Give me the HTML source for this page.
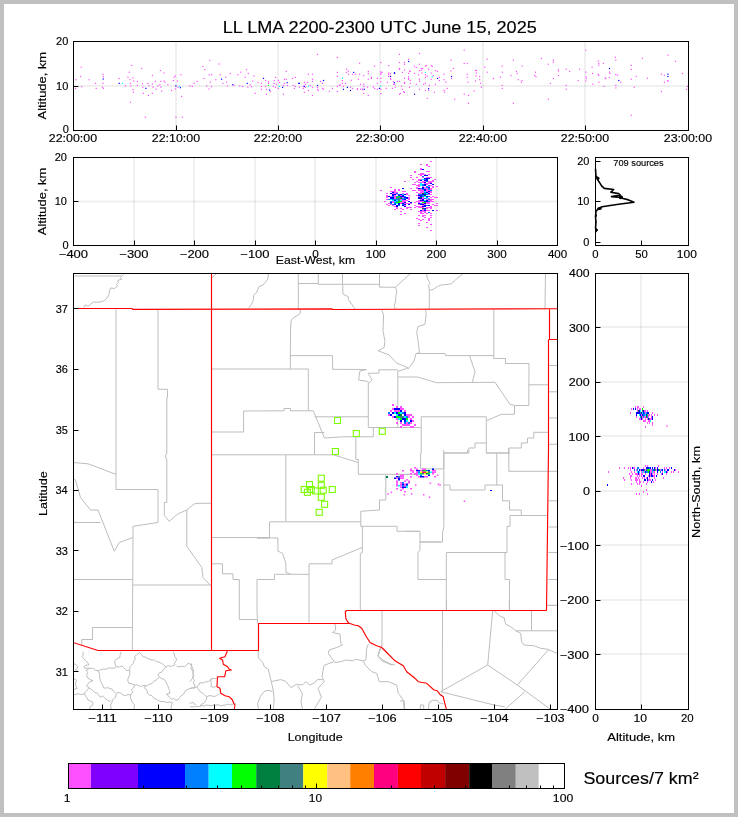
<!DOCTYPE html><html><head><meta charset="utf-8"><style>html,body{margin:0;padding:0;background:#fff;} svg{display:block;will-change:transform} text{font-family:"Liberation Sans", sans-serif;stroke:#000;stroke-width:0.15px;}</style></head><body>
<svg width="738" height="817" viewBox="0 0 738 817">
<rect x="0" y="0" width="738" height="817" fill="#c0c0c0"/>
<rect x="4" y="4" width="730" height="809" fill="#fff"/>
<text x="222.71" y="32.60" font-size="16.8" textLength="314.05" lengthAdjust="spacingAndGlyphs" fill="#000" >LL LMA 2200-2300 UTC June 15, 2025</text>
<line x1="176.0" y1="41.5" x2="176.0" y2="130.5" stroke="#000" stroke-opacity="0.06" stroke-width="2"/>
<line x1="278.0" y1="41.5" x2="278.0" y2="130.5" stroke="#000" stroke-opacity="0.06" stroke-width="2"/>
<line x1="380.0" y1="41.5" x2="380.0" y2="130.5" stroke="#000" stroke-opacity="0.06" stroke-width="2"/>
<line x1="483.0" y1="41.5" x2="483.0" y2="130.5" stroke="#000" stroke-opacity="0.06" stroke-width="2"/>
<line x1="585.0" y1="41.5" x2="585.0" y2="130.5" stroke="#000" stroke-opacity="0.06" stroke-width="2"/>
<line x1="73.5" y1="86" x2="688.5" y2="86" stroke="#000" stroke-opacity="0.06" stroke-width="2"/>
<rect x="75.4" y="79.1" width="1.2" height="1.2" fill="#ff50ff"/><rect x="74.9" y="87.8" width="1.2" height="1.2" fill="#ff50ff"/><rect x="80.6" y="66.6" width="1.2" height="1.2" fill="#ff50ff"/><rect x="79.9" y="75.9" width="1.2" height="1.2" fill="#ff50ff"/><rect x="81.1" y="86.1" width="1.2" height="1.2" fill="#ff50ff"/><rect x="88.6" y="79.1" width="1.2" height="1.2" fill="#ff50ff"/><rect x="94.9" y="82.8" width="1.2" height="1.2" fill="#ff50ff"/><rect x="95.6" y="87.8" width="1.2" height="1.2" fill="#ff50ff"/><rect x="102.4" y="73.6" width="1.2" height="1.2" fill="#ff50ff"/><rect x="102.9" y="76.1" width="1.2" height="1.2" fill="#ff50ff"/><rect x="102.6" y="78.4" width="1.2" height="1.2" fill="#0000ff"/><rect x="102.4" y="82.8" width="1.2" height="1.2" fill="#ff50ff"/><rect x="101.9" y="86.6" width="1.2" height="1.2" fill="#ff50ff"/><rect x="102.9" y="87.8" width="1.2" height="1.2" fill="#ff50ff"/><rect x="118.6" y="77.9" width="1.2" height="1.2" fill="#ff50ff"/><rect x="118.6" y="82.8" width="1.2" height="1.2" fill="#0000ff"/><rect x="121.8" y="82.8" width="1.2" height="1.2" fill="#00ffff"/><rect x="124.8" y="85.3" width="1.2" height="1.2" fill="#ff50ff"/><rect x="127.3" y="76.6" width="1.2" height="1.2" fill="#ff50ff"/><rect x="128.6" y="71.6" width="1.2" height="1.2" fill="#ff50ff"/><rect x="129.3" y="79.1" width="1.2" height="1.2" fill="#ff50ff"/><rect x="129.8" y="82.8" width="1.2" height="1.2" fill="#ff50ff"/><rect x="130.3" y="85.3" width="1.2" height="1.2" fill="#ff50ff"/><rect x="131.1" y="64.9" width="1.2" height="1.2" fill="#ff50ff"/><rect x="132.3" y="77.4" width="1.2" height="1.2" fill="#ff50ff"/><rect x="133.1" y="80.4" width="1.2" height="1.2" fill="#ff50ff"/><rect x="132.3" y="89.1" width="1.2" height="1.2" fill="#ff50ff"/><rect x="132.8" y="91.6" width="1.2" height="1.2" fill="#ff50ff"/><rect x="129.8" y="101.6" width="1.2" height="1.2" fill="#ff50ff"/><rect x="136.8" y="80.8" width="1.2" height="1.2" fill="#ff50ff"/><rect x="136.8" y="84.8" width="1.2" height="1.2" fill="#ff50ff"/><rect x="141.1" y="67.9" width="1.2" height="1.2" fill="#ff50ff"/><rect x="141.8" y="83.3" width="1.2" height="1.2" fill="#ff50ff"/><rect x="142.3" y="86.6" width="1.2" height="1.2" fill="#ff50ff"/><rect x="142.8" y="92.8" width="1.2" height="1.2" fill="#ff50ff"/><rect x="144.8" y="116.6" width="1.2" height="1.2" fill="#ff50ff"/><rect x="145.3" y="87.8" width="1.2" height="1.2" fill="#0000ff"/><rect x="147.3" y="82.8" width="1.2" height="1.2" fill="#ff50ff"/><rect x="148.6" y="85.3" width="1.2" height="1.2" fill="#ff50ff"/><rect x="147.8" y="94.8" width="1.2" height="1.2" fill="#ff50ff"/><rect x="151.8" y="74.9" width="1.2" height="1.2" fill="#ff50ff"/><rect x="151.8" y="83.3" width="1.2" height="1.2" fill="#ff50ff"/><rect x="151.8" y="92.8" width="1.2" height="1.2" fill="#ff50ff"/><rect x="152.3" y="86.6" width="1.2" height="1.2" fill="#ff50ff"/><rect x="154.8" y="80.8" width="1.2" height="1.2" fill="#ff50ff"/><rect x="155.5" y="88.6" width="1.2" height="1.2" fill="#ff50ff"/><rect x="157.3" y="85.3" width="1.2" height="1.2" fill="#ff50ff"/><rect x="159.3" y="84.1" width="1.2" height="1.2" fill="#ff50ff"/><rect x="159.8" y="69.9" width="1.2" height="1.2" fill="#ff50ff"/><rect x="160.3" y="80.8" width="1.2" height="1.2" fill="#ff50ff"/><rect x="160.3" y="86.6" width="1.2" height="1.2" fill="#ff50ff"/><rect x="161.0" y="90.3" width="1.2" height="1.2" fill="#ff50ff"/><rect x="163.5" y="72.4" width="1.2" height="1.2" fill="#ff50ff"/><rect x="163.5" y="80.4" width="1.2" height="1.2" fill="#ff50ff"/><rect x="164.3" y="81.6" width="1.2" height="1.2" fill="#ff50ff"/><rect x="167.3" y="84.1" width="1.2" height="1.2" fill="#ff50ff"/><rect x="171.0" y="89.8" width="1.2" height="1.2" fill="#ff50ff"/><rect x="172.8" y="79.9" width="1.2" height="1.2" fill="#ff50ff"/><rect x="173.5" y="76.6" width="1.2" height="1.2" fill="#ff50ff"/><rect x="174.8" y="75.4" width="1.2" height="1.2" fill="#ff50ff"/><rect x="175.3" y="85.3" width="1.2" height="1.2" fill="#0000ff"/><rect x="174.8" y="88.3" width="1.2" height="1.2" fill="#ff50ff"/><rect x="175.3" y="116.6" width="1.2" height="1.2" fill="#ff50ff"/><rect x="176.8" y="80.4" width="1.2" height="1.2" fill="#ff50ff"/><rect x="177.3" y="86.6" width="1.2" height="1.2" fill="#ff50ff"/><rect x="178.5" y="85.8" width="1.2" height="1.2" fill="#00ffff"/><rect x="179.8" y="87.1" width="1.2" height="1.2" fill="#0000ff"/><rect x="180.3" y="74.1" width="1.2" height="1.2" fill="#ff50ff"/><rect x="181.0" y="95.8" width="1.2" height="1.2" fill="#ff50ff"/><rect x="181.8" y="116.6" width="1.2" height="1.2" fill="#ff50ff"/><rect x="189.3" y="85.3" width="1.2" height="1.2" fill="#ff50ff"/><rect x="191.8" y="85.8" width="1.2" height="1.2" fill="#ff50ff"/><rect x="193.5" y="82.8" width="1.2" height="1.2" fill="#ff50ff"/><rect x="196.7" y="80.8" width="1.2" height="1.2" fill="#ff50ff"/><rect x="202.2" y="65.9" width="1.2" height="1.2" fill="#ff50ff"/><rect x="203.5" y="77.9" width="1.2" height="1.2" fill="#ff50ff"/><rect x="204.2" y="69.1" width="1.2" height="1.2" fill="#ff50ff"/><rect x="206.0" y="85.3" width="1.2" height="1.2" fill="#ff50ff"/><rect x="208.5" y="74.1" width="1.2" height="1.2" fill="#ff50ff"/><rect x="208.5" y="88.3" width="1.2" height="1.2" fill="#ff50ff"/><rect x="209.2" y="59.9" width="1.2" height="1.2" fill="#ff50ff"/><rect x="209.7" y="81.6" width="1.2" height="1.2" fill="#ff50ff"/><rect x="211.0" y="74.1" width="1.2" height="1.2" fill="#ff50ff"/><rect x="211.0" y="86.1" width="1.2" height="1.2" fill="#ff50ff"/><rect x="215.2" y="79.1" width="1.2" height="1.2" fill="#ff50ff"/><rect x="218.5" y="63.4" width="1.2" height="1.2" fill="#ff50ff"/><rect x="219.7" y="74.1" width="1.2" height="1.2" fill="#ff50ff"/><rect x="221.0" y="78.6" width="1.2" height="1.2" fill="#0000ff"/><rect x="222.2" y="82.8" width="1.2" height="1.2" fill="#ff50ff"/><rect x="225.2" y="76.6" width="1.2" height="1.2" fill="#ff50ff"/><rect x="226.0" y="81.6" width="1.2" height="1.2" fill="#ff50ff"/><rect x="226.7" y="85.3" width="1.2" height="1.2" fill="#ff50ff"/><rect x="229.7" y="72.9" width="1.2" height="1.2" fill="#ff50ff"/><rect x="232.2" y="84.1" width="1.2" height="1.2" fill="#0000ff"/><rect x="233.4" y="84.8" width="1.2" height="1.2" fill="#ff50ff"/><rect x="237.2" y="74.1" width="1.2" height="1.2" fill="#ff50ff"/><rect x="239.2" y="85.3" width="1.2" height="1.2" fill="#ff50ff"/><rect x="240.2" y="71.6" width="1.2" height="1.2" fill="#ff50ff"/><rect x="242.2" y="85.8" width="1.2" height="1.2" fill="#ff50ff"/><rect x="244.7" y="76.6" width="1.2" height="1.2" fill="#ff50ff"/><rect x="245.9" y="69.1" width="1.2" height="1.2" fill="#ff50ff"/><rect x="246.7" y="82.8" width="1.2" height="1.2" fill="#0000ff"/><rect x="247.2" y="86.6" width="1.2" height="1.2" fill="#ff50ff"/><rect x="247.7" y="72.9" width="1.2" height="1.2" fill="#ff50ff"/><rect x="249.7" y="84.1" width="1.2" height="1.2" fill="#ff50ff"/><rect x="250.9" y="86.1" width="1.2" height="1.2" fill="#ff50ff"/><rect x="252.2" y="80.4" width="1.2" height="1.2" fill="#ff50ff"/><rect x="253.4" y="75.4" width="1.2" height="1.2" fill="#ff50ff"/><rect x="254.7" y="92.8" width="1.2" height="1.2" fill="#ff50ff"/><rect x="257.4" y="81.8" width="1.2" height="1.2" fill="#ff50ff"/><rect x="260.8" y="82.8" width="1.2" height="1.2" fill="#ff50ff"/><rect x="260.8" y="85.8" width="1.2" height="1.2" fill="#ff50ff"/><rect x="260.8" y="88.7" width="1.2" height="1.2" fill="#ff50ff"/><rect x="262.9" y="77.8" width="1.2" height="1.2" fill="#0000ff"/><rect x="264.9" y="79.9" width="1.2" height="1.2" fill="#ff50ff"/><rect x="264.9" y="85.8" width="1.2" height="1.2" fill="#ff50ff"/><rect x="265.8" y="88.7" width="1.2" height="1.2" fill="#ff50ff"/><rect x="265.8" y="93.7" width="1.2" height="1.2" fill="#ff50ff"/><rect x="267.9" y="81.2" width="1.2" height="1.2" fill="#ff50ff"/><rect x="267.9" y="82.8" width="1.2" height="1.2" fill="#ff50ff"/><rect x="267.9" y="84.9" width="1.2" height="1.2" fill="#00ff00"/><rect x="268.9" y="89.5" width="1.2" height="1.2" fill="#0000ff"/><rect x="269.9" y="90.8" width="1.2" height="1.2" fill="#ff50ff"/><rect x="272.6" y="85.8" width="1.2" height="1.2" fill="#ff50ff"/><rect x="273.6" y="79.9" width="1.2" height="1.2" fill="#ff50ff"/><rect x="273.6" y="82.8" width="1.2" height="1.2" fill="#ff50ff"/><rect x="274.9" y="76.8" width="1.2" height="1.2" fill="#ff50ff"/><rect x="274.9" y="86.8" width="1.2" height="1.2" fill="#ff50ff"/><rect x="275.7" y="83.7" width="1.2" height="1.2" fill="#ff50ff"/><rect x="277.8" y="79.9" width="1.2" height="1.2" fill="#ff50ff"/><rect x="277.8" y="87.8" width="1.2" height="1.2" fill="#ff50ff"/><rect x="278.8" y="81.8" width="1.2" height="1.2" fill="#ff50ff"/><rect x="278.8" y="85.8" width="1.2" height="1.2" fill="#00ffff"/><rect x="282.0" y="86.8" width="1.2" height="1.2" fill="#0000ff"/><rect x="282.8" y="93.7" width="1.2" height="1.2" fill="#ff50ff"/><rect x="282.8" y="84.9" width="1.2" height="1.2" fill="#ff50ff"/><rect x="283.8" y="78.7" width="1.2" height="1.2" fill="#ff50ff"/><rect x="283.8" y="82.8" width="1.2" height="1.2" fill="#ff50ff"/><rect x="285.7" y="70.8" width="1.2" height="1.2" fill="#ff50ff"/><rect x="285.7" y="78.7" width="1.2" height="1.2" fill="#ff50ff"/><rect x="286.6" y="82.1" width="1.2" height="1.2" fill="#0000ff"/><rect x="286.9" y="84.9" width="1.2" height="1.2" fill="#ff50ff"/><rect x="291.9" y="77.8" width="1.2" height="1.2" fill="#ff50ff"/><rect x="292.6" y="84.9" width="1.2" height="1.2" fill="#ff50ff"/><rect x="293.8" y="87.8" width="1.2" height="1.2" fill="#ff50ff"/><rect x="294.8" y="76.8" width="1.2" height="1.2" fill="#ff50ff"/><rect x="294.8" y="85.8" width="1.2" height="1.2" fill="#ff50ff"/><rect x="298.2" y="82.8" width="1.2" height="1.2" fill="#0000ff"/><rect x="298.8" y="82.8" width="1.2" height="1.2" fill="#0000ff"/><rect x="298.8" y="86.6" width="1.2" height="1.2" fill="#ff50ff"/><rect x="302.8" y="85.8" width="1.2" height="1.2" fill="#ff50ff"/><rect x="302.8" y="87.8" width="1.2" height="1.2" fill="#ff50ff"/><rect x="303.8" y="81.8" width="1.2" height="1.2" fill="#ff50ff"/><rect x="303.8" y="85.8" width="1.2" height="1.2" fill="#0000ff"/><rect x="303.8" y="91.8" width="1.2" height="1.2" fill="#ff50ff"/><rect x="304.8" y="83.7" width="1.2" height="1.2" fill="#ff50ff"/><rect x="304.8" y="86.8" width="1.2" height="1.2" fill="#ff50ff"/><rect x="306.9" y="81.8" width="1.2" height="1.2" fill="#ff50ff"/><rect x="307.8" y="73.7" width="1.2" height="1.2" fill="#ff50ff"/><rect x="307.8" y="85.6" width="1.2" height="1.2" fill="#00ffff"/><rect x="307.8" y="89.9" width="1.2" height="1.2" fill="#ff50ff"/><rect x="309.8" y="84.9" width="1.2" height="1.2" fill="#ff50ff"/><rect x="311.9" y="73.7" width="1.2" height="1.2" fill="#ff50ff"/><rect x="311.9" y="78.7" width="1.2" height="1.2" fill="#ff50ff"/><rect x="311.9" y="80.8" width="1.2" height="1.2" fill="#ff50ff"/><rect x="311.9" y="86.8" width="1.2" height="1.2" fill="#ff50ff"/><rect x="311.9" y="94.9" width="1.2" height="1.2" fill="#ff50ff"/><rect x="316.9" y="53.8" width="1.2" height="1.2" fill="#ff50ff"/><rect x="316.9" y="84.9" width="1.2" height="1.2" fill="#0000ff"/><rect x="316.9" y="86.8" width="1.2" height="1.2" fill="#ff50ff"/><rect x="316.9" y="88.7" width="1.2" height="1.2" fill="#ff50ff"/><rect x="317.7" y="89.9" width="1.2" height="1.2" fill="#ff50ff"/><rect x="320.0" y="80.8" width="1.2" height="1.2" fill="#ff50ff"/><rect x="321.9" y="82.8" width="1.2" height="1.2" fill="#ff50ff"/><rect x="321.9" y="87.8" width="1.2" height="1.2" fill="#ff50ff"/><rect x="322.9" y="79.9" width="1.2" height="1.2" fill="#0000ff"/><rect x="322.9" y="88.7" width="1.2" height="1.2" fill="#ff50ff"/><rect x="328.7" y="90.8" width="1.2" height="1.2" fill="#ff50ff"/><rect x="331.8" y="87.8" width="1.2" height="1.2" fill="#ff50ff"/><rect x="336.8" y="56.9" width="1.2" height="1.2" fill="#ff50ff"/><rect x="336.8" y="71.8" width="1.2" height="1.2" fill="#ff50ff"/><rect x="336.8" y="75.8" width="1.2" height="1.2" fill="#ff50ff"/><rect x="336.8" y="85.8" width="1.2" height="1.2" fill="#ff50ff"/><rect x="336.8" y="90.8" width="1.2" height="1.2" fill="#ff50ff"/><rect x="338.7" y="84.6" width="1.2" height="1.2" fill="#ff50ff"/><rect x="339.7" y="84.3" width="1.2" height="1.2" fill="#ff50ff"/><rect x="341.8" y="77.8" width="1.2" height="1.2" fill="#00ffff"/><rect x="341.8" y="79.9" width="1.2" height="1.2" fill="#ff50ff"/><rect x="341.8" y="82.8" width="1.2" height="1.2" fill="#ff50ff"/><rect x="342.8" y="85.8" width="1.2" height="1.2" fill="#ff50ff"/><rect x="342.8" y="88.7" width="1.2" height="1.2" fill="#0000ff"/><rect x="344.9" y="82.8" width="1.2" height="1.2" fill="#ff50ff"/><rect x="345.9" y="68.7" width="1.2" height="1.2" fill="#ff50ff"/><rect x="345.9" y="71.8" width="1.2" height="1.2" fill="#ff50ff"/><rect x="346.8" y="86.8" width="1.2" height="1.2" fill="#0000ff"/><rect x="347.8" y="70.6" width="1.2" height="1.2" fill="#ff50ff"/><rect x="348.0" y="73.7" width="1.2" height="1.2" fill="#ff50ff"/><rect x="359.0" y="62.7" width="1.2" height="1.2" fill="#ff50ff"/><rect x="374.0" y="65.6" width="1.2" height="1.2" fill="#ff50ff"/><rect x="353.1" y="71.8" width="1.2" height="1.2" fill="#0000ff"/><rect x="351.9" y="73.7" width="1.2" height="1.2" fill="#ff50ff"/><rect x="354.6" y="73.7" width="1.2" height="1.2" fill="#ff50ff"/><rect x="359.0" y="73.7" width="1.2" height="1.2" fill="#ff50ff"/><rect x="363.1" y="75.0" width="1.2" height="1.2" fill="#ff50ff"/><rect x="367.7" y="70.8" width="1.2" height="1.2" fill="#ff50ff"/><rect x="367.7" y="72.8" width="1.2" height="1.2" fill="#ff50ff"/><rect x="350.6" y="79.7" width="1.2" height="1.2" fill="#ff50ff"/><rect x="357.8" y="78.7" width="1.2" height="1.2" fill="#ff50ff"/><rect x="367.7" y="78.7" width="1.2" height="1.2" fill="#ff50ff"/><rect x="370.8" y="76.8" width="1.2" height="1.2" fill="#ff50ff"/><rect x="370.8" y="77.8" width="1.2" height="1.2" fill="#ff50ff"/><rect x="376.8" y="77.8" width="1.2" height="1.2" fill="#ff50ff"/><rect x="376.8" y="82.8" width="1.2" height="1.2" fill="#ff50ff"/><rect x="380.2" y="61.9" width="1.2" height="1.2" fill="#ff50ff"/><rect x="380.2" y="71.2" width="1.2" height="1.2" fill="#ff50ff"/><rect x="380.2" y="72.5" width="1.2" height="1.2" fill="#ff50ff"/><rect x="380.2" y="73.7" width="1.2" height="1.2" fill="#ff50ff"/><rect x="381.4" y="71.8" width="1.2" height="1.2" fill="#ff50ff"/><rect x="380.2" y="77.8" width="1.2" height="1.2" fill="#ff50ff"/><rect x="380.2" y="81.2" width="1.2" height="1.2" fill="#ff50ff"/><rect x="380.2" y="85.6" width="1.2" height="1.2" fill="#00ffff"/><rect x="380.2" y="88.7" width="1.2" height="1.2" fill="#ff50ff"/><rect x="380.2" y="93.0" width="1.2" height="1.2" fill="#ff50ff"/><rect x="378.9" y="87.8" width="1.2" height="1.2" fill="#0000ff"/><rect x="359.9" y="83.7" width="1.2" height="1.2" fill="#ff50ff"/><rect x="363.1" y="83.7" width="1.2" height="1.2" fill="#ff50ff"/><rect x="363.4" y="85.8" width="1.2" height="1.2" fill="#ff50ff"/><rect x="366.9" y="86.6" width="1.2" height="1.2" fill="#ff50ff"/><rect x="372.7" y="86.6" width="1.2" height="1.2" fill="#ff50ff"/><rect x="374.0" y="88.1" width="1.2" height="1.2" fill="#ff50ff"/><rect x="376.8" y="88.7" width="1.2" height="1.2" fill="#ff50ff"/><rect x="349.9" y="86.6" width="1.2" height="1.2" fill="#ff50ff"/><rect x="351.9" y="87.8" width="1.2" height="1.2" fill="#ff50ff"/><rect x="349.9" y="89.9" width="1.2" height="1.2" fill="#0000ff"/><rect x="356.9" y="88.1" width="1.2" height="1.2" fill="#ff50ff"/><rect x="356.9" y="89.1" width="1.2" height="1.2" fill="#ff50ff"/><rect x="359.9" y="88.7" width="1.2" height="1.2" fill="#ff50ff"/><rect x="361.9" y="88.3" width="1.2" height="1.2" fill="#ff50ff"/><rect x="361.9" y="89.1" width="1.2" height="1.2" fill="#ff50ff"/><rect x="363.7" y="88.7" width="1.2" height="1.2" fill="#0000ff"/><rect x="363.1" y="92.8" width="1.2" height="1.2" fill="#ff50ff"/><rect x="367.7" y="94.9" width="1.2" height="1.2" fill="#ff50ff"/><rect x="385.6" y="87.8" width="1.2" height="1.2" fill="#ff50ff"/><rect x="386.8" y="81.8" width="1.2" height="1.2" fill="#ff50ff"/><rect x="388.1" y="65.0" width="1.2" height="1.2" fill="#ff50ff"/><rect x="388.1" y="72.5" width="1.2" height="1.2" fill="#ff50ff"/><rect x="388.1" y="73.7" width="1.2" height="1.2" fill="#ff50ff"/><rect x="388.1" y="75.8" width="1.2" height="1.2" fill="#ff50ff"/><rect x="389.9" y="73.1" width="1.2" height="1.2" fill="#ff50ff"/><rect x="389.9" y="75.8" width="1.2" height="1.2" fill="#0000ff"/><rect x="389.9" y="77.8" width="1.2" height="1.2" fill="#ff50ff"/><rect x="390.2" y="78.7" width="1.2" height="1.2" fill="#ff50ff"/><rect x="393.9" y="72.1" width="1.2" height="1.2" fill="#0000ff"/><rect x="393.9" y="72.8" width="1.2" height="1.2" fill="#0000ff"/><rect x="392.7" y="81.2" width="1.2" height="1.2" fill="#ff50ff"/><rect x="393.9" y="82.1" width="1.2" height="1.2" fill="#0000ff"/><rect x="393.0" y="83.7" width="1.2" height="1.2" fill="#ff50ff"/><rect x="393.9" y="83.7" width="1.2" height="1.2" fill="#ff50ff"/><rect x="391.8" y="87.8" width="1.2" height="1.2" fill="#ff50ff"/><rect x="394.8" y="86.6" width="1.2" height="1.2" fill="#ff50ff"/><rect x="396.8" y="80.8" width="1.2" height="1.2" fill="#ff50ff"/><rect x="398.9" y="53.8" width="1.2" height="1.2" fill="#ff50ff"/><rect x="398.9" y="61.9" width="1.2" height="1.2" fill="#ff50ff"/><rect x="398.9" y="67.9" width="1.2" height="1.2" fill="#ff50ff"/><rect x="398.9" y="68.7" width="1.2" height="1.2" fill="#ff50ff"/><rect x="398.9" y="80.8" width="1.2" height="1.2" fill="#ff50ff"/><rect x="400.8" y="85.6" width="1.2" height="1.2" fill="#ff50ff"/><rect x="401.8" y="71.8" width="1.2" height="1.2" fill="#ff50ff"/><rect x="401.8" y="88.7" width="1.2" height="1.2" fill="#ff50ff"/><rect x="403.0" y="91.2" width="1.2" height="1.2" fill="#ff50ff"/><rect x="403.9" y="91.8" width="1.2" height="1.2" fill="#ff50ff"/><rect x="403.9" y="61.9" width="1.2" height="1.2" fill="#ff50ff"/><rect x="403.9" y="63.7" width="1.2" height="1.2" fill="#ff50ff"/><rect x="403.9" y="69.4" width="1.2" height="1.2" fill="#ff50ff"/><rect x="403.9" y="77.8" width="1.2" height="1.2" fill="#ff50ff"/><rect x="403.9" y="81.8" width="1.2" height="1.2" fill="#ff50ff"/><rect x="403.9" y="82.8" width="1.2" height="1.2" fill="#ff50ff"/><rect x="398.9" y="93.7" width="1.2" height="1.2" fill="#ff50ff"/><rect x="399.8" y="92.8" width="1.2" height="1.2" fill="#ff50ff"/><rect x="408.0" y="58.8" width="1.2" height="1.2" fill="#ff50ff"/><rect x="408.0" y="60.9" width="1.2" height="1.2" fill="#0000ff"/><rect x="408.0" y="72.8" width="1.2" height="1.2" fill="#ff50ff"/><rect x="408.0" y="76.2" width="1.2" height="1.2" fill="#ff50ff"/><rect x="408.0" y="77.8" width="1.2" height="1.2" fill="#ff50ff"/><rect x="408.0" y="78.7" width="1.2" height="1.2" fill="#ff50ff"/><rect x="408.9" y="70.6" width="1.2" height="1.2" fill="#ff50ff"/><rect x="409.7" y="70.6" width="1.2" height="1.2" fill="#ff50ff"/><rect x="409.7" y="79.9" width="1.2" height="1.2" fill="#ff50ff"/><rect x="409.7" y="82.8" width="1.2" height="1.2" fill="#ff50ff"/><rect x="408.9" y="86.8" width="1.2" height="1.2" fill="#ff50ff"/><rect x="413.9" y="65.6" width="1.2" height="1.2" fill="#ff50ff"/><rect x="413.9" y="72.8" width="1.2" height="1.2" fill="#ff50ff"/><rect x="413.9" y="93.7" width="1.2" height="1.2" fill="#0000ff"/><rect x="415.7" y="66.9" width="1.2" height="1.2" fill="#ff50ff"/><rect x="415.7" y="83.7" width="1.2" height="1.2" fill="#ff50ff"/><rect x="418.0" y="74.3" width="1.2" height="1.2" fill="#ff50ff"/><rect x="418.8" y="52.9" width="1.2" height="1.2" fill="#ff50ff"/><rect x="418.8" y="63.7" width="1.2" height="1.2" fill="#ff50ff"/><rect x="418.8" y="70.0" width="1.2" height="1.2" fill="#ff50ff"/><rect x="418.8" y="78.7" width="1.2" height="1.2" fill="#ff50ff"/><rect x="418.8" y="80.6" width="1.2" height="1.2" fill="#ff50ff"/><rect x="418.8" y="88.7" width="1.2" height="1.2" fill="#ff50ff"/><rect x="420.7" y="67.9" width="1.2" height="1.2" fill="#ff50ff"/><rect x="420.7" y="69.7" width="1.2" height="1.2" fill="#ff50ff"/><rect x="421.3" y="72.5" width="1.2" height="1.2" fill="#ff50ff"/><rect x="422.0" y="67.9" width="1.2" height="1.2" fill="#ff50ff"/><rect x="423.0" y="83.7" width="1.2" height="1.2" fill="#ff50ff"/><rect x="424.8" y="65.6" width="1.2" height="1.2" fill="#ff50ff"/><rect x="424.8" y="71.8" width="1.2" height="1.2" fill="#00ffff"/><rect x="424.8" y="74.3" width="1.2" height="1.2" fill="#ff50ff"/><rect x="424.8" y="76.8" width="1.2" height="1.2" fill="#ff50ff"/><rect x="424.8" y="82.8" width="1.2" height="1.2" fill="#ff50ff"/><rect x="424.8" y="89.9" width="1.2" height="1.2" fill="#ff50ff"/><rect x="425.7" y="65.0" width="1.2" height="1.2" fill="#ff50ff"/><rect x="426.7" y="75.6" width="1.2" height="1.2" fill="#ff50ff"/><rect x="426.7" y="97.8" width="1.2" height="1.2" fill="#ff50ff"/><rect x="428.0" y="68.7" width="1.2" height="1.2" fill="#ff50ff"/><rect x="428.0" y="88.1" width="1.2" height="1.2" fill="#0000ff"/><rect x="428.0" y="89.9" width="1.2" height="1.2" fill="#ff50ff"/><rect x="428.8" y="84.9" width="1.2" height="1.2" fill="#ff50ff"/><rect x="430.7" y="65.0" width="1.2" height="1.2" fill="#ff50ff"/><rect x="431.7" y="65.6" width="1.2" height="1.2" fill="#ff50ff"/><rect x="430.7" y="72.5" width="1.2" height="1.2" fill="#ff50ff"/><rect x="430.7" y="78.7" width="1.2" height="1.2" fill="#ff50ff"/><rect x="431.7" y="76.2" width="1.2" height="1.2" fill="#00ffff"/><rect x="432.8" y="75.0" width="1.2" height="1.2" fill="#ff50ff"/><rect x="433.8" y="91.8" width="1.2" height="1.2" fill="#ff50ff"/><rect x="434.8" y="70.0" width="1.2" height="1.2" fill="#ff50ff"/><rect x="434.8" y="83.7" width="1.2" height="1.2" fill="#ff50ff"/><rect x="436.9" y="70.8" width="1.2" height="1.2" fill="#ff50ff"/><rect x="436.9" y="77.8" width="1.2" height="1.2" fill="#0000ff"/><rect x="438.8" y="76.8" width="1.2" height="1.2" fill="#ff50ff"/><rect x="438.8" y="79.9" width="1.2" height="1.2" fill="#ff50ff"/><rect x="443.4" y="73.6" width="1.2" height="1.2" fill="#ff50ff"/><rect x="443.4" y="79.1" width="1.2" height="1.2" fill="#ff50ff"/><rect x="445.4" y="81.6" width="1.2" height="1.2" fill="#ff50ff"/><rect x="446.6" y="87.8" width="1.2" height="1.2" fill="#ff50ff"/><rect x="443.4" y="89.8" width="1.2" height="1.2" fill="#ff50ff"/><rect x="444.1" y="91.6" width="1.2" height="1.2" fill="#ff50ff"/><rect x="450.4" y="59.6" width="1.2" height="1.2" fill="#ff50ff"/><rect x="450.4" y="70.4" width="1.2" height="1.2" fill="#ff50ff"/><rect x="450.9" y="75.9" width="1.2" height="1.2" fill="#0000ff"/><rect x="450.9" y="77.9" width="1.2" height="1.2" fill="#ff50ff"/><rect x="452.9" y="67.9" width="1.2" height="1.2" fill="#ff50ff"/><rect x="454.1" y="98.6" width="1.2" height="1.2" fill="#ff50ff"/><rect x="463.6" y="49.6" width="1.2" height="1.2" fill="#ff50ff"/><rect x="463.6" y="62.9" width="1.2" height="1.2" fill="#ff50ff"/><rect x="463.6" y="93.6" width="1.2" height="1.2" fill="#ff50ff"/><rect x="466.6" y="62.9" width="1.2" height="1.2" fill="#ff50ff"/><rect x="466.6" y="73.6" width="1.2" height="1.2" fill="#ff50ff"/><rect x="466.6" y="76.6" width="1.2" height="1.2" fill="#ff50ff"/><rect x="467.4" y="81.6" width="1.2" height="1.2" fill="#ff50ff"/><rect x="467.9" y="94.8" width="1.2" height="1.2" fill="#ff50ff"/><rect x="467.9" y="102.8" width="1.2" height="1.2" fill="#ff50ff"/><rect x="473.6" y="90.3" width="1.2" height="1.2" fill="#ff50ff"/><rect x="474.9" y="69.9" width="1.2" height="1.2" fill="#ff50ff"/><rect x="475.4" y="75.4" width="1.2" height="1.2" fill="#ff50ff"/><rect x="475.9" y="69.9" width="1.2" height="1.2" fill="#ff50ff"/><rect x="475.9" y="72.4" width="1.2" height="1.2" fill="#ff50ff"/><rect x="474.9" y="80.4" width="1.2" height="1.2" fill="#ff50ff"/><rect x="479.1" y="75.9" width="1.2" height="1.2" fill="#ff50ff"/><rect x="479.1" y="79.1" width="1.2" height="1.2" fill="#ff50ff"/><rect x="479.9" y="82.8" width="1.2" height="1.2" fill="#ff50ff"/><rect x="480.8" y="86.6" width="1.2" height="1.2" fill="#ff50ff"/><rect x="484.1" y="66.6" width="1.2" height="1.2" fill="#ff50ff"/><rect x="486.6" y="58.6" width="1.2" height="1.2" fill="#ff50ff"/><rect x="486.6" y="71.6" width="1.2" height="1.2" fill="#ff50ff"/><rect x="492.8" y="77.9" width="1.2" height="1.2" fill="#ff50ff"/><rect x="499.8" y="76.6" width="1.2" height="1.2" fill="#ff50ff"/><rect x="501.6" y="65.4" width="1.2" height="1.2" fill="#ff50ff"/><rect x="501.6" y="71.6" width="1.2" height="1.2" fill="#ff50ff"/><rect x="501.6" y="84.8" width="1.2" height="1.2" fill="#ff50ff"/><rect x="501.6" y="87.8" width="1.2" height="1.2" fill="#ff50ff"/><rect x="510.3" y="74.9" width="1.2" height="1.2" fill="#ff50ff"/><rect x="512.8" y="59.6" width="1.2" height="1.2" fill="#ff50ff"/><rect x="512.8" y="102.8" width="1.2" height="1.2" fill="#ff50ff"/><rect x="515.8" y="70.9" width="1.2" height="1.2" fill="#ff50ff"/><rect x="516.6" y="72.9" width="1.2" height="1.2" fill="#ff50ff"/><rect x="517.8" y="79.1" width="1.2" height="1.2" fill="#ff50ff"/><rect x="520.8" y="81.6" width="1.2" height="1.2" fill="#ff50ff"/><rect x="521.5" y="65.4" width="1.2" height="1.2" fill="#ff50ff"/><rect x="521.5" y="79.9" width="1.2" height="1.2" fill="#ff50ff"/><rect x="534.0" y="74.9" width="1.2" height="1.2" fill="#ff50ff"/><rect x="534.8" y="71.6" width="1.2" height="1.2" fill="#ff50ff"/><rect x="535.3" y="76.1" width="1.2" height="1.2" fill="#ff50ff"/><rect x="540.8" y="57.9" width="1.2" height="1.2" fill="#ff50ff"/><rect x="547.8" y="63.6" width="1.2" height="1.2" fill="#ff50ff"/><rect x="547.8" y="98.6" width="1.2" height="1.2" fill="#ff50ff"/><rect x="549.8" y="82.8" width="1.2" height="1.2" fill="#ff50ff"/><rect x="552.8" y="59.6" width="1.2" height="1.2" fill="#ff50ff"/><rect x="552.8" y="61.6" width="1.2" height="1.2" fill="#ff50ff"/><rect x="552.8" y="77.9" width="1.2" height="1.2" fill="#ff50ff"/><rect x="557.8" y="69.1" width="1.2" height="1.2" fill="#ff50ff"/><rect x="557.8" y="70.4" width="1.2" height="1.2" fill="#ff50ff"/><rect x="557.8" y="74.9" width="1.2" height="1.2" fill="#ff50ff"/><rect x="565.7" y="68.6" width="1.2" height="1.2" fill="#ff50ff"/><rect x="565.7" y="84.8" width="1.2" height="1.2" fill="#ff50ff"/><rect x="565.7" y="88.6" width="1.2" height="1.2" fill="#ff50ff"/><rect x="569.0" y="70.9" width="1.2" height="1.2" fill="#ff50ff"/><rect x="577.7" y="79.9" width="1.2" height="1.2" fill="#ff50ff"/><rect x="579.0" y="68.6" width="1.2" height="1.2" fill="#ff50ff"/><rect x="585.2" y="49.6" width="1.2" height="1.2" fill="#ff50ff"/><rect x="585.2" y="71.6" width="1.2" height="1.2" fill="#ff50ff"/><rect x="585.2" y="76.1" width="1.2" height="1.2" fill="#ff50ff"/><rect x="585.7" y="77.9" width="1.2" height="1.2" fill="#ff50ff"/><rect x="585.2" y="80.4" width="1.2" height="1.2" fill="#ff50ff"/><rect x="591.5" y="66.6" width="1.2" height="1.2" fill="#ff50ff"/><rect x="592.0" y="72.9" width="1.2" height="1.2" fill="#ff50ff"/><rect x="592.2" y="83.6" width="1.2" height="1.2" fill="#ff50ff"/><rect x="597.7" y="60.4" width="1.2" height="1.2" fill="#ff50ff"/><rect x="598.2" y="62.9" width="1.2" height="1.2" fill="#ff50ff"/><rect x="598.2" y="64.6" width="1.2" height="1.2" fill="#ff50ff"/><rect x="597.7" y="73.6" width="1.2" height="1.2" fill="#ff50ff"/><rect x="598.2" y="74.9" width="1.2" height="1.2" fill="#ff50ff"/><rect x="598.2" y="81.6" width="1.2" height="1.2" fill="#ff50ff"/><rect x="602.7" y="62.9" width="1.2" height="1.2" fill="#ff50ff"/><rect x="603.2" y="85.8" width="1.2" height="1.2" fill="#ff50ff"/><rect x="604.7" y="77.4" width="1.2" height="1.2" fill="#ff50ff"/><rect x="605.2" y="77.9" width="1.2" height="1.2" fill="#ff50ff"/><rect x="608.9" y="67.9" width="1.2" height="1.2" fill="#0000ff"/><rect x="608.9" y="71.6" width="1.2" height="1.2" fill="#ff50ff"/><rect x="609.4" y="72.9" width="1.2" height="1.2" fill="#ff50ff"/><rect x="608.9" y="77.1" width="1.2" height="1.2" fill="#ff50ff"/><rect x="614.7" y="56.6" width="1.2" height="1.2" fill="#ff50ff"/><rect x="615.2" y="59.6" width="1.2" height="1.2" fill="#ff50ff"/><rect x="615.2" y="74.1" width="1.2" height="1.2" fill="#ff50ff"/><rect x="615.2" y="84.8" width="1.2" height="1.2" fill="#ff50ff"/><rect x="615.2" y="87.3" width="1.2" height="1.2" fill="#ff50ff"/><rect x="616.9" y="74.6" width="1.2" height="1.2" fill="#ff50ff"/><rect x="618.2" y="79.9" width="1.2" height="1.2" fill="#0000ff"/><rect x="620.2" y="81.6" width="1.2" height="1.2" fill="#ff50ff"/><rect x="630.7" y="64.8" width="1.2" height="1.2" fill="#ff50ff"/><rect x="630.7" y="68.9" width="1.2" height="1.2" fill="#ff50ff"/><rect x="630.7" y="78.7" width="1.2" height="1.2" fill="#ff50ff"/><rect x="630.7" y="114.7" width="1.2" height="1.2" fill="#ff50ff"/><rect x="633.7" y="86.7" width="1.2" height="1.2" fill="#ff50ff"/><rect x="635.7" y="75.9" width="1.2" height="1.2" fill="#ff50ff"/><rect x="641.8" y="57.7" width="1.2" height="1.2" fill="#ff50ff"/><rect x="646.8" y="77.7" width="1.2" height="1.2" fill="#ff50ff"/><rect x="660.8" y="73.6" width="1.2" height="1.2" fill="#ff50ff"/><rect x="660.8" y="90.8" width="1.2" height="1.2" fill="#ff50ff"/><rect x="663.8" y="74.7" width="1.2" height="1.2" fill="#ff50ff"/><rect x="663.8" y="81.7" width="1.2" height="1.2" fill="#ff50ff"/><rect x="667.3" y="54.6" width="1.2" height="1.2" fill="#ff50ff"/><rect x="667.3" y="73.6" width="1.2" height="1.2" fill="#0000ff"/><rect x="667.3" y="75.9" width="1.2" height="1.2" fill="#0000ff"/><rect x="667.3" y="80.0" width="1.2" height="1.2" fill="#ff50ff"/><rect x="667.3" y="80.6" width="1.2" height="1.2" fill="#ff50ff"/><rect x="674.8" y="60.7" width="1.2" height="1.2" fill="#ff50ff"/><rect x="681.8" y="72.9" width="1.2" height="1.2" fill="#ff50ff"/><rect x="685.9" y="88.8" width="1.2" height="1.2" fill="#ff50ff"/><rect x="686.8" y="85.8" width="1.2" height="1.2" fill="#ff50ff"/>
<line x1="73.5" y1="125.5" x2="73.5" y2="130.5" stroke="#000" stroke-width="1"/>
<line x1="176.5" y1="125.5" x2="176.5" y2="130.5" stroke="#000" stroke-width="1"/>
<line x1="278.5" y1="125.5" x2="278.5" y2="130.5" stroke="#000" stroke-width="1"/>
<line x1="380.5" y1="125.5" x2="380.5" y2="130.5" stroke="#000" stroke-width="1"/>
<line x1="483.5" y1="125.5" x2="483.5" y2="130.5" stroke="#000" stroke-width="1"/>
<line x1="585.5" y1="125.5" x2="585.5" y2="130.5" stroke="#000" stroke-width="1"/>
<line x1="688.5" y1="125.5" x2="688.5" y2="130.5" stroke="#000" stroke-width="1"/>
<line x1="73.5" y1="130.5" x2="78.5" y2="130.5" stroke="#000" stroke-width="1"/>
<line x1="73.5" y1="86.5" x2="78.5" y2="86.5" stroke="#000" stroke-width="1"/>
<line x1="73.5" y1="41.5" x2="78.5" y2="41.5" stroke="#000" stroke-width="1"/>
<rect x="73.5" y="41.5" width="615.0" height="89.0" fill="none" stroke="#000" stroke-width="1"/>
<text x="56.10" y="45.00" font-size="11.0" textLength="12.24" lengthAdjust="spacingAndGlyphs" fill="#000" >20</text>
<text x="56.10" y="89.50" font-size="11.0" textLength="12.24" lengthAdjust="spacingAndGlyphs" fill="#000" >10</text>
<text x="62.71" y="133.20" font-size="11.0" textLength="6.12" lengthAdjust="spacingAndGlyphs" fill="#000" >0</text>
<text x="48.73" y="142.00" font-size="11.0" textLength="48.39" lengthAdjust="spacingAndGlyphs" fill="#000" >22:00:00</text>
<text x="151.73" y="142.00" font-size="11.0" textLength="48.39" lengthAdjust="spacingAndGlyphs" fill="#000" >22:10:00</text>
<text x="253.73" y="142.00" font-size="11.0" textLength="48.39" lengthAdjust="spacingAndGlyphs" fill="#000" >22:20:00</text>
<text x="355.73" y="142.00" font-size="11.0" textLength="48.39" lengthAdjust="spacingAndGlyphs" fill="#000" >22:30:00</text>
<text x="458.73" y="142.00" font-size="11.0" textLength="48.39" lengthAdjust="spacingAndGlyphs" fill="#000" >22:40:00</text>
<text x="560.73" y="142.00" font-size="11.0" textLength="48.39" lengthAdjust="spacingAndGlyphs" fill="#000" >22:50:00</text>
<text x="663.73" y="142.00" font-size="11.0" textLength="48.39" lengthAdjust="spacingAndGlyphs" fill="#000" >23:00:00</text>
<text transform="translate(46.00,119.40) rotate(-90)" x="-0.03" y="0" font-size="11.0" textLength="67.56" lengthAdjust="spacingAndGlyphs">Altitude, km</text>
<line x1="134.0" y1="157.5" x2="134.0" y2="245.5" stroke="#000" stroke-opacity="0.06" stroke-width="2"/>
<line x1="194.0" y1="157.5" x2="194.0" y2="245.5" stroke="#000" stroke-opacity="0.06" stroke-width="2"/>
<line x1="255.0" y1="157.5" x2="255.0" y2="245.5" stroke="#000" stroke-opacity="0.06" stroke-width="2"/>
<line x1="315.0" y1="157.5" x2="315.0" y2="245.5" stroke="#000" stroke-opacity="0.06" stroke-width="2"/>
<line x1="376.0" y1="157.5" x2="376.0" y2="245.5" stroke="#000" stroke-opacity="0.06" stroke-width="2"/>
<line x1="436.0" y1="157.5" x2="436.0" y2="245.5" stroke="#000" stroke-opacity="0.06" stroke-width="2"/>
<line x1="497.0" y1="157.5" x2="497.0" y2="245.5" stroke="#000" stroke-opacity="0.06" stroke-width="2"/>
<line x1="73.5" y1="201.5" x2="557.5" y2="201.5" stroke="#000" stroke-opacity="0.06" stroke-width="2"/>
<rect x="430.0" y="161.0" width="2" height="1" fill="#ff50ff"/><rect x="420.0" y="164.0" width="2" height="1" fill="#ff50ff"/><rect x="426.0" y="164.0" width="2" height="1" fill="#ff50ff"/><rect x="426.0" y="165.0" width="2" height="1" fill="#ff50ff"/><rect x="428.0" y="166.0" width="2" height="1" fill="#ff50ff"/><rect x="420.0" y="168.0" width="2" height="1" fill="#ff50ff"/><rect x="420.0" y="169.0" width="2" height="1" fill="#ff50ff"/><rect x="422.0" y="169.0" width="2" height="1" fill="#0000ff"/><rect x="414.0" y="171.0" width="2" height="1" fill="#ff50ff"/><rect x="426.0" y="171.0" width="2" height="1" fill="#ff50ff"/><rect x="428.0" y="171.0" width="2" height="1" fill="#ff50ff"/><rect x="414.0" y="172.0" width="2" height="1" fill="#ff50ff"/><rect x="420.0" y="173.0" width="2" height="1" fill="#ff50ff"/><rect x="422.0" y="173.0" width="2" height="1" fill="#ff50ff"/><rect x="418.0" y="174.0" width="2" height="1" fill="#ff50ff"/><rect x="420.0" y="174.0" width="2" height="1" fill="#ff50ff"/><rect x="422.0" y="174.0" width="2" height="1" fill="#ff50ff"/><rect x="424.0" y="174.0" width="2" height="1" fill="#ff50ff"/><rect x="428.0" y="174.0" width="2" height="1" fill="#ff50ff"/><rect x="410.0" y="175.0" width="2" height="1" fill="#ff50ff"/><rect x="420.0" y="175.0" width="2" height="1" fill="#ff50ff"/><rect x="424.0" y="175.0" width="2" height="1" fill="#0000ff"/><rect x="426.0" y="175.0" width="2" height="1" fill="#0000ff"/><rect x="422.0" y="176.0" width="2" height="1" fill="#0080ff"/><rect x="410.0" y="177.0" width="2" height="1" fill="#ff50ff"/><rect x="416.0" y="177.0" width="2" height="1" fill="#ff50ff"/><rect x="422.0" y="177.0" width="2" height="1" fill="#ff50ff"/><rect x="426.0" y="177.0" width="2" height="1" fill="#ff50ff"/><rect x="428.0" y="177.0" width="2" height="1" fill="#ff50ff"/><rect x="430.0" y="177.0" width="2" height="1" fill="#ff50ff"/><rect x="424.0" y="178.0" width="2" height="1" fill="#0000ff"/><rect x="426.0" y="178.0" width="2" height="1" fill="#0000ff"/><rect x="428.0" y="178.0" width="2" height="1" fill="#0000ff"/><rect x="412.0" y="179.0" width="2" height="1" fill="#ff50ff"/><rect x="418.0" y="179.0" width="2" height="1" fill="#ff50ff"/><rect x="420.0" y="179.0" width="2" height="1" fill="#ff50ff"/><rect x="422.0" y="179.0" width="2" height="1" fill="#00ffff"/><rect x="424.0" y="179.0" width="2" height="1" fill="#0080ff"/><rect x="426.0" y="179.0" width="2" height="1" fill="#0000ff"/><rect x="434.0" y="179.0" width="2" height="1" fill="#ff50ff"/><rect x="418.0" y="180.0" width="2" height="1" fill="#ff50ff"/><rect x="420.0" y="180.0" width="2" height="1" fill="#0000ff"/><rect x="424.0" y="180.0" width="2" height="1" fill="#0000ff"/><rect x="426.0" y="180.0" width="2" height="1" fill="#0000ff"/><rect x="432.0" y="180.0" width="2" height="1" fill="#ff50ff"/><rect x="404.0" y="181.0" width="2" height="1" fill="#ff50ff"/><rect x="416.0" y="181.0" width="2" height="1" fill="#ff50ff"/><rect x="422.0" y="181.0" width="2" height="1" fill="#ff50ff"/><rect x="424.0" y="181.0" width="2" height="1" fill="#ff50ff"/><rect x="426.0" y="181.0" width="2" height="1" fill="#0080ff"/><rect x="428.0" y="181.0" width="2" height="1" fill="#ff50ff"/><rect x="430.0" y="181.0" width="2" height="1" fill="#ff50ff"/><rect x="432.0" y="181.0" width="2" height="1" fill="#ff50ff"/><rect x="414.0" y="182.0" width="2" height="1" fill="#ff50ff"/><rect x="418.0" y="182.0" width="2" height="1" fill="#ff50ff"/><rect x="420.0" y="182.0" width="2" height="1" fill="#ff50ff"/><rect x="422.0" y="182.0" width="2" height="1" fill="#ff50ff"/><rect x="424.0" y="182.0" width="2" height="1" fill="#0000ff"/><rect x="428.0" y="182.0" width="2" height="1" fill="#ff50ff"/><rect x="430.0" y="182.0" width="2" height="1" fill="#ff50ff"/><rect x="420.0" y="183.0" width="2" height="1" fill="#00ffff"/><rect x="424.0" y="183.0" width="2" height="1" fill="#ff50ff"/><rect x="426.0" y="183.0" width="2" height="1" fill="#ff50ff"/><rect x="428.0" y="183.0" width="2" height="1" fill="#ff50ff"/><rect x="430.0" y="183.0" width="2" height="1" fill="#0000ff"/><rect x="412.0" y="184.0" width="2" height="1" fill="#ff50ff"/><rect x="414.0" y="184.0" width="2" height="1" fill="#ff50ff"/><rect x="418.0" y="184.0" width="2" height="1" fill="#ff50ff"/><rect x="420.0" y="184.0" width="2" height="1" fill="#00ffff"/><rect x="422.0" y="184.0" width="2" height="1" fill="#0080ff"/><rect x="424.0" y="184.0" width="2" height="1" fill="#0000ff"/><rect x="426.0" y="184.0" width="2" height="1" fill="#ff50ff"/><rect x="432.0" y="184.0" width="2" height="1" fill="#0000ff"/><rect x="416.0" y="185.0" width="2" height="1" fill="#ff50ff"/><rect x="418.0" y="185.0" width="2" height="1" fill="#ff50ff"/><rect x="420.0" y="185.0" width="2" height="1" fill="#00ffff"/><rect x="422.0" y="185.0" width="2" height="1" fill="#0080ff"/><rect x="424.0" y="185.0" width="2" height="1" fill="#0000ff"/><rect x="428.0" y="185.0" width="2" height="1" fill="#0080ff"/><rect x="430.0" y="185.0" width="2" height="1" fill="#ff50ff"/><rect x="418.0" y="186.0" width="2" height="1" fill="#ff50ff"/><rect x="422.0" y="186.0" width="2" height="1" fill="#ff50ff"/><rect x="426.0" y="186.0" width="2" height="1" fill="#0080ff"/><rect x="428.0" y="186.0" width="2" height="1" fill="#ff50ff"/><rect x="432.0" y="186.0" width="2" height="1" fill="#ff50ff"/><rect x="436.0" y="186.0" width="2" height="1" fill="#ff50ff"/><rect x="390.0" y="187.0" width="2" height="1" fill="#ff50ff"/><rect x="416.0" y="187.0" width="2" height="1" fill="#ff50ff"/><rect x="422.0" y="187.0" width="2" height="1" fill="#0000ff"/><rect x="424.0" y="187.0" width="2" height="1" fill="#ff50ff"/><rect x="426.0" y="187.0" width="2" height="1" fill="#0080ff"/><rect x="428.0" y="187.0" width="2" height="1" fill="#0000ff"/><rect x="432.0" y="187.0" width="2" height="1" fill="#ff50ff"/><rect x="402.0" y="188.0" width="2" height="1" fill="#0000ff"/><rect x="410.0" y="188.0" width="2" height="1" fill="#ff50ff"/><rect x="416.0" y="188.0" width="2" height="1" fill="#ff50ff"/><rect x="418.0" y="188.0" width="2" height="1" fill="#0000ff"/><rect x="420.0" y="188.0" width="2" height="1" fill="#0080ff"/><rect x="422.0" y="188.0" width="2" height="1" fill="#0000ff"/><rect x="424.0" y="188.0" width="2" height="1" fill="#ff50ff"/><rect x="426.0" y="188.0" width="2" height="1" fill="#ff50ff"/><rect x="428.0" y="188.0" width="2" height="1" fill="#0080ff"/><rect x="430.0" y="188.0" width="2" height="1" fill="#ff50ff"/><rect x="394.0" y="189.0" width="2" height="1" fill="#ff50ff"/><rect x="398.0" y="189.0" width="2" height="1" fill="#ff50ff"/><rect x="418.0" y="189.0" width="2" height="1" fill="#ff50ff"/><rect x="420.0" y="189.0" width="2" height="1" fill="#ff50ff"/><rect x="422.0" y="189.0" width="2" height="1" fill="#0080ff"/><rect x="424.0" y="189.0" width="2" height="1" fill="#0000ff"/><rect x="426.0" y="189.0" width="2" height="1" fill="#ff50ff"/><rect x="428.0" y="189.0" width="2" height="1" fill="#0080ff"/><rect x="430.0" y="189.0" width="2" height="1" fill="#ff50ff"/><rect x="380.0" y="190.0" width="2" height="1" fill="#ff50ff"/><rect x="394.0" y="190.0" width="2" height="1" fill="#ff50ff"/><rect x="398.0" y="190.0" width="2" height="1" fill="#ff50ff"/><rect x="412.0" y="190.0" width="2" height="1" fill="#ff50ff"/><rect x="414.0" y="190.0" width="2" height="1" fill="#ff50ff"/><rect x="418.0" y="190.0" width="2" height="1" fill="#ff50ff"/><rect x="420.0" y="190.0" width="2" height="1" fill="#ff50ff"/><rect x="422.0" y="190.0" width="2" height="1" fill="#ff50ff"/><rect x="424.0" y="190.0" width="2" height="1" fill="#0000ff"/><rect x="426.0" y="190.0" width="2" height="1" fill="#ff50ff"/><rect x="428.0" y="190.0" width="2" height="1" fill="#ff50ff"/><rect x="430.0" y="190.0" width="2" height="1" fill="#0080ff"/><rect x="390.0" y="191.0" width="2" height="1" fill="#ff50ff"/><rect x="392.0" y="191.0" width="2" height="1" fill="#ff50ff"/><rect x="394.0" y="191.0" width="2" height="1" fill="#ff50ff"/><rect x="402.0" y="191.0" width="2" height="1" fill="#ff50ff"/><rect x="404.0" y="191.0" width="2" height="1" fill="#ff50ff"/><rect x="420.0" y="191.0" width="2" height="1" fill="#ff50ff"/><rect x="422.0" y="191.0" width="2" height="1" fill="#ff50ff"/><rect x="424.0" y="191.0" width="2" height="1" fill="#00ffff"/><rect x="426.0" y="191.0" width="2" height="1" fill="#ff50ff"/><rect x="428.0" y="191.0" width="2" height="1" fill="#0000ff"/><rect x="430.0" y="191.0" width="2" height="1" fill="#ff50ff"/><rect x="392.0" y="192.0" width="2" height="1" fill="#0000ff"/><rect x="394.0" y="192.0" width="2" height="1" fill="#ff50ff"/><rect x="396.0" y="192.0" width="2" height="1" fill="#ff50ff"/><rect x="416.0" y="192.0" width="2" height="1" fill="#ff50ff"/><rect x="420.0" y="192.0" width="2" height="1" fill="#ff50ff"/><rect x="422.0" y="192.0" width="2" height="1" fill="#ff50ff"/><rect x="424.0" y="192.0" width="2" height="1" fill="#0080ff"/><rect x="426.0" y="192.0" width="2" height="1" fill="#0000ff"/><rect x="428.0" y="192.0" width="2" height="1" fill="#ff50ff"/><rect x="430.0" y="192.0" width="2" height="1" fill="#ff50ff"/><rect x="386.0" y="193.0" width="2" height="1" fill="#ff50ff"/><rect x="390.0" y="193.0" width="2" height="1" fill="#0000ff"/><rect x="392.0" y="193.0" width="2" height="1" fill="#ff50ff"/><rect x="394.0" y="193.0" width="2" height="1" fill="#ff50ff"/><rect x="396.0" y="193.0" width="2" height="1" fill="#0080ff"/><rect x="402.0" y="193.0" width="2" height="1" fill="#ff50ff"/><rect x="406.0" y="193.0" width="2" height="1" fill="#ff50ff"/><rect x="418.0" y="193.0" width="2" height="1" fill="#ff50ff"/><rect x="420.0" y="193.0" width="2" height="1" fill="#ff50ff"/><rect x="422.0" y="193.0" width="2" height="1" fill="#008040"/><rect x="424.0" y="193.0" width="2" height="1" fill="#0080ff"/><rect x="426.0" y="193.0" width="2" height="1" fill="#00ffff"/><rect x="428.0" y="193.0" width="2" height="1" fill="#0000ff"/><rect x="392.0" y="194.0" width="2" height="1" fill="#0000ff"/><rect x="394.0" y="194.0" width="2" height="1" fill="#0000ff"/><rect x="396.0" y="194.0" width="2" height="1" fill="#ff50ff"/><rect x="398.0" y="194.0" width="2" height="1" fill="#0080ff"/><rect x="400.0" y="194.0" width="2" height="1" fill="#0000ff"/><rect x="402.0" y="194.0" width="2" height="1" fill="#00ffff"/><rect x="404.0" y="194.0" width="2" height="1" fill="#0000ff"/><rect x="406.0" y="194.0" width="2" height="1" fill="#ff50ff"/><rect x="418.0" y="194.0" width="2" height="1" fill="#0080ff"/><rect x="420.0" y="194.0" width="2" height="1" fill="#0080ff"/><rect x="422.0" y="194.0" width="2" height="1" fill="#0000ff"/><rect x="424.0" y="194.0" width="2" height="1" fill="#0000ff"/><rect x="426.0" y="194.0" width="2" height="1" fill="#0080ff"/><rect x="428.0" y="194.0" width="2" height="1" fill="#ff50ff"/><rect x="430.0" y="194.0" width="2" height="1" fill="#ff50ff"/><rect x="386.0" y="195.0" width="2" height="1" fill="#ff50ff"/><rect x="392.0" y="195.0" width="2" height="1" fill="#0000ff"/><rect x="394.0" y="195.0" width="2" height="1" fill="#ff50ff"/><rect x="398.0" y="195.0" width="2" height="1" fill="#0000ff"/><rect x="400.0" y="195.0" width="2" height="1" fill="#ff50ff"/><rect x="402.0" y="195.0" width="2" height="1" fill="#0000ff"/><rect x="408.0" y="195.0" width="2" height="1" fill="#ff50ff"/><rect x="416.0" y="195.0" width="2" height="1" fill="#ff50ff"/><rect x="418.0" y="195.0" width="2" height="1" fill="#0000ff"/><rect x="420.0" y="195.0" width="2" height="1" fill="#0000ff"/><rect x="422.0" y="195.0" width="2" height="1" fill="#0080ff"/><rect x="424.0" y="195.0" width="2" height="1" fill="#008040"/><rect x="386.0" y="196.0" width="2" height="1" fill="#ff50ff"/><rect x="388.0" y="196.0" width="2" height="1" fill="#0000ff"/><rect x="390.0" y="196.0" width="2" height="1" fill="#ff50ff"/><rect x="392.0" y="196.0" width="2" height="1" fill="#0080ff"/><rect x="394.0" y="196.0" width="2" height="1" fill="#ff50ff"/><rect x="396.0" y="196.0" width="2" height="1" fill="#0080ff"/><rect x="398.0" y="196.0" width="2" height="1" fill="#00ff00"/><rect x="400.0" y="196.0" width="2" height="1" fill="#0000ff"/><rect x="402.0" y="196.0" width="2" height="1" fill="#0000ff"/><rect x="404.0" y="196.0" width="2" height="1" fill="#0080ff"/><rect x="418.0" y="196.0" width="2" height="1" fill="#ff50ff"/><rect x="420.0" y="196.0" width="2" height="1" fill="#0000ff"/><rect x="422.0" y="196.0" width="2" height="1" fill="#0080ff"/><rect x="424.0" y="196.0" width="2" height="1" fill="#00ffff"/><rect x="426.0" y="196.0" width="2" height="1" fill="#0000ff"/><rect x="428.0" y="196.0" width="2" height="1" fill="#0080ff"/><rect x="432.0" y="196.0" width="2" height="1" fill="#ff50ff"/><rect x="386.0" y="197.0" width="2" height="1" fill="#ff50ff"/><rect x="390.0" y="197.0" width="2" height="1" fill="#0000ff"/><rect x="392.0" y="197.0" width="2" height="1" fill="#0000ff"/><rect x="394.0" y="197.0" width="2" height="1" fill="#ff50ff"/><rect x="396.0" y="197.0" width="2" height="1" fill="#00ff00"/><rect x="398.0" y="197.0" width="2" height="1" fill="#408080"/><rect x="400.0" y="197.0" width="2" height="1" fill="#408080"/><rect x="402.0" y="197.0" width="2" height="1" fill="#ff50ff"/><rect x="404.0" y="197.0" width="2" height="1" fill="#0000ff"/><rect x="406.0" y="197.0" width="2" height="1" fill="#0000ff"/><rect x="408.0" y="197.0" width="2" height="1" fill="#ff50ff"/><rect x="418.0" y="197.0" width="2" height="1" fill="#0000ff"/><rect x="420.0" y="197.0" width="2" height="1" fill="#008040"/><rect x="422.0" y="197.0" width="2" height="1" fill="#ff50ff"/><rect x="426.0" y="197.0" width="2" height="1" fill="#0080ff"/><rect x="430.0" y="197.0" width="2" height="1" fill="#ff50ff"/><rect x="434.0" y="197.0" width="2" height="1" fill="#ff50ff"/><rect x="436.0" y="197.0" width="2" height="1" fill="#ff50ff"/><rect x="390.0" y="198.0" width="2" height="1" fill="#0000ff"/><rect x="392.0" y="198.0" width="2" height="1" fill="#0000ff"/><rect x="394.0" y="198.0" width="2" height="1" fill="#ff50ff"/><rect x="396.0" y="198.0" width="2" height="1" fill="#408080"/><rect x="398.0" y="198.0" width="2" height="1" fill="#0080ff"/><rect x="400.0" y="198.0" width="2" height="1" fill="#008040"/><rect x="402.0" y="198.0" width="2" height="1" fill="#0080ff"/><rect x="404.0" y="198.0" width="2" height="1" fill="#0080ff"/><rect x="406.0" y="198.0" width="2" height="1" fill="#0000ff"/><rect x="408.0" y="198.0" width="2" height="1" fill="#ff50ff"/><rect x="418.0" y="198.0" width="2" height="1" fill="#0000ff"/><rect x="420.0" y="198.0" width="2" height="1" fill="#0000ff"/><rect x="422.0" y="198.0" width="2" height="1" fill="#ff50ff"/><rect x="424.0" y="198.0" width="2" height="1" fill="#0080ff"/><rect x="426.0" y="198.0" width="2" height="1" fill="#00ffff"/><rect x="428.0" y="198.0" width="2" height="1" fill="#ff50ff"/><rect x="386.0" y="199.0" width="2" height="1" fill="#ff50ff"/><rect x="388.0" y="199.0" width="2" height="1" fill="#0080ff"/><rect x="390.0" y="199.0" width="2" height="1" fill="#00ffff"/><rect x="392.0" y="199.0" width="2" height="1" fill="#0080ff"/><rect x="394.0" y="199.0" width="2" height="1" fill="#0080ff"/><rect x="396.0" y="199.0" width="2" height="1" fill="#0080ff"/><rect x="398.0" y="199.0" width="2" height="1" fill="#408080"/><rect x="400.0" y="199.0" width="2" height="1" fill="#ff50ff"/><rect x="402.0" y="199.0" width="2" height="1" fill="#0080ff"/><rect x="404.0" y="199.0" width="2" height="1" fill="#0000ff"/><rect x="408.0" y="199.0" width="2" height="1" fill="#ff50ff"/><rect x="420.0" y="199.0" width="2" height="1" fill="#ff50ff"/><rect x="422.0" y="199.0" width="2" height="1" fill="#0000ff"/><rect x="426.0" y="199.0" width="2" height="1" fill="#ff50ff"/><rect x="428.0" y="199.0" width="2" height="1" fill="#0080ff"/><rect x="430.0" y="199.0" width="2" height="1" fill="#ff50ff"/><rect x="432.0" y="199.0" width="2" height="1" fill="#ff50ff"/><rect x="392.0" y="200.0" width="2" height="1" fill="#00ffff"/><rect x="394.0" y="200.0" width="2" height="1" fill="#0000ff"/><rect x="396.0" y="200.0" width="2" height="1" fill="#00ffff"/><rect x="398.0" y="200.0" width="2" height="1" fill="#408080"/><rect x="400.0" y="200.0" width="2" height="1" fill="#00ffff"/><rect x="402.0" y="200.0" width="2" height="1" fill="#ff50ff"/><rect x="404.0" y="200.0" width="2" height="1" fill="#ff50ff"/><rect x="406.0" y="200.0" width="2" height="1" fill="#ff50ff"/><rect x="418.0" y="200.0" width="2" height="1" fill="#ff50ff"/><rect x="420.0" y="200.0" width="2" height="1" fill="#0000ff"/><rect x="422.0" y="200.0" width="2" height="1" fill="#0000ff"/><rect x="424.0" y="200.0" width="2" height="1" fill="#00ffff"/><rect x="426.0" y="200.0" width="2" height="1" fill="#0000ff"/><rect x="428.0" y="200.0" width="2" height="1" fill="#ff50ff"/><rect x="430.0" y="200.0" width="2" height="1" fill="#ff50ff"/><rect x="384.0" y="201.0" width="2" height="1" fill="#ff50ff"/><rect x="390.0" y="201.0" width="2" height="1" fill="#0080ff"/><rect x="392.0" y="201.0" width="2" height="1" fill="#ff50ff"/><rect x="394.0" y="201.0" width="2" height="1" fill="#00ffff"/><rect x="396.0" y="201.0" width="2" height="1" fill="#0080ff"/><rect x="398.0" y="201.0" width="2" height="1" fill="#00ff00"/><rect x="400.0" y="201.0" width="2" height="1" fill="#00ff00"/><rect x="402.0" y="201.0" width="2" height="1" fill="#ff50ff"/><rect x="404.0" y="201.0" width="2" height="1" fill="#ff50ff"/><rect x="408.0" y="201.0" width="2" height="1" fill="#0000ff"/><rect x="416.0" y="201.0" width="2" height="1" fill="#ff50ff"/><rect x="418.0" y="201.0" width="2" height="1" fill="#ff50ff"/><rect x="420.0" y="201.0" width="2" height="1" fill="#ff50ff"/><rect x="422.0" y="201.0" width="2" height="1" fill="#ff50ff"/><rect x="424.0" y="201.0" width="2" height="1" fill="#0000ff"/><rect x="426.0" y="201.0" width="2" height="1" fill="#0000ff"/><rect x="428.0" y="201.0" width="2" height="1" fill="#0080ff"/><rect x="430.0" y="201.0" width="2" height="1" fill="#ff50ff"/><rect x="432.0" y="201.0" width="2" height="1" fill="#ff50ff"/><rect x="390.0" y="202.0" width="2" height="1" fill="#0000ff"/><rect x="392.0" y="202.0" width="2" height="1" fill="#ff50ff"/><rect x="394.0" y="202.0" width="2" height="1" fill="#0080ff"/><rect x="396.0" y="202.0" width="2" height="1" fill="#00ff00"/><rect x="398.0" y="202.0" width="2" height="1" fill="#00ff00"/><rect x="400.0" y="202.0" width="2" height="1" fill="#ff50ff"/><rect x="402.0" y="202.0" width="2" height="1" fill="#ff50ff"/><rect x="404.0" y="202.0" width="2" height="1" fill="#0000ff"/><rect x="410.0" y="202.0" width="2" height="1" fill="#0000ff"/><rect x="414.0" y="202.0" width="2" height="1" fill="#ff50ff"/><rect x="418.0" y="202.0" width="2" height="1" fill="#ff50ff"/><rect x="422.0" y="202.0" width="2" height="1" fill="#00ff00"/><rect x="424.0" y="202.0" width="2" height="1" fill="#00ff00"/><rect x="426.0" y="202.0" width="2" height="1" fill="#ff50ff"/><rect x="428.0" y="202.0" width="2" height="1" fill="#ff50ff"/><rect x="388.0" y="203.0" width="2" height="1" fill="#ff50ff"/><rect x="390.0" y="203.0" width="2" height="1" fill="#0080ff"/><rect x="394.0" y="203.0" width="2" height="1" fill="#0080ff"/><rect x="396.0" y="203.0" width="2" height="1" fill="#00ffff"/><rect x="398.0" y="203.0" width="2" height="1" fill="#0000ff"/><rect x="400.0" y="203.0" width="2" height="1" fill="#ff50ff"/><rect x="402.0" y="203.0" width="2" height="1" fill="#0000ff"/><rect x="404.0" y="203.0" width="2" height="1" fill="#ff50ff"/><rect x="406.0" y="203.0" width="2" height="1" fill="#ff50ff"/><rect x="408.0" y="203.0" width="2" height="1" fill="#ff50ff"/><rect x="410.0" y="203.0" width="2" height="1" fill="#ff50ff"/><rect x="418.0" y="203.0" width="2" height="1" fill="#0000ff"/><rect x="420.0" y="203.0" width="2" height="1" fill="#0080ff"/><rect x="422.0" y="203.0" width="2" height="1" fill="#ff50ff"/><rect x="424.0" y="203.0" width="2" height="1" fill="#0000ff"/><rect x="426.0" y="203.0" width="2" height="1" fill="#ff50ff"/><rect x="428.0" y="203.0" width="2" height="1" fill="#ff50ff"/><rect x="436.0" y="203.0" width="2" height="1" fill="#ff50ff"/><rect x="386.0" y="204.0" width="2" height="1" fill="#ff50ff"/><rect x="390.0" y="204.0" width="2" height="1" fill="#ff50ff"/><rect x="392.0" y="204.0" width="2" height="1" fill="#0080ff"/><rect x="394.0" y="204.0" width="2" height="1" fill="#0000ff"/><rect x="398.0" y="204.0" width="2" height="1" fill="#0000ff"/><rect x="402.0" y="204.0" width="2" height="1" fill="#0080ff"/><rect x="404.0" y="204.0" width="2" height="1" fill="#0000ff"/><rect x="408.0" y="204.0" width="2" height="1" fill="#0000ff"/><rect x="418.0" y="204.0" width="2" height="1" fill="#ff50ff"/><rect x="420.0" y="204.0" width="2" height="1" fill="#0000ff"/><rect x="422.0" y="204.0" width="2" height="1" fill="#0000ff"/><rect x="424.0" y="204.0" width="2" height="1" fill="#ff50ff"/><rect x="432.0" y="204.0" width="2" height="1" fill="#ff50ff"/><rect x="388.0" y="205.0" width="2" height="1" fill="#ff50ff"/><rect x="392.0" y="205.0" width="2" height="1" fill="#ff50ff"/><rect x="396.0" y="205.0" width="2" height="1" fill="#0000ff"/><rect x="398.0" y="205.0" width="2" height="1" fill="#0080ff"/><rect x="402.0" y="205.0" width="2" height="1" fill="#0000ff"/><rect x="404.0" y="205.0" width="2" height="1" fill="#ff50ff"/><rect x="414.0" y="205.0" width="2" height="1" fill="#ff50ff"/><rect x="422.0" y="205.0" width="2" height="1" fill="#ff50ff"/><rect x="424.0" y="205.0" width="2" height="1" fill="#0000ff"/><rect x="426.0" y="205.0" width="2" height="1" fill="#0080ff"/><rect x="428.0" y="205.0" width="2" height="1" fill="#0000ff"/><rect x="434.0" y="205.0" width="2" height="1" fill="#ff50ff"/><rect x="436.0" y="205.0" width="2" height="1" fill="#ff50ff"/><rect x="394.0" y="206.0" width="2" height="1" fill="#ff50ff"/><rect x="396.0" y="206.0" width="2" height="1" fill="#0000ff"/><rect x="404.0" y="206.0" width="2" height="1" fill="#0000ff"/><rect x="416.0" y="206.0" width="2" height="1" fill="#ff50ff"/><rect x="418.0" y="206.0" width="2" height="1" fill="#ff50ff"/><rect x="420.0" y="206.0" width="2" height="1" fill="#ff50ff"/><rect x="422.0" y="206.0" width="2" height="1" fill="#0000ff"/><rect x="424.0" y="206.0" width="2" height="1" fill="#0000ff"/><rect x="430.0" y="206.0" width="2" height="1" fill="#ff50ff"/><rect x="396.0" y="207.0" width="2" height="1" fill="#ff50ff"/><rect x="406.0" y="207.0" width="2" height="1" fill="#ff50ff"/><rect x="408.0" y="207.0" width="2" height="1" fill="#ff50ff"/><rect x="410.0" y="207.0" width="2" height="1" fill="#ff50ff"/><rect x="414.0" y="207.0" width="2" height="1" fill="#ff50ff"/><rect x="418.0" y="207.0" width="2" height="1" fill="#ff50ff"/><rect x="420.0" y="207.0" width="2" height="1" fill="#ff50ff"/><rect x="422.0" y="207.0" width="2" height="1" fill="#ff50ff"/><rect x="426.0" y="207.0" width="2" height="1" fill="#ff50ff"/><rect x="428.0" y="207.0" width="2" height="1" fill="#ff50ff"/><rect x="430.0" y="207.0" width="2" height="1" fill="#ff50ff"/><rect x="396.0" y="208.0" width="2" height="1" fill="#ff50ff"/><rect x="400.0" y="208.0" width="2" height="1" fill="#ff50ff"/><rect x="406.0" y="208.0" width="2" height="1" fill="#ff50ff"/><rect x="422.0" y="208.0" width="2" height="1" fill="#008040"/><rect x="424.0" y="208.0" width="2" height="1" fill="#0000ff"/><rect x="426.0" y="208.0" width="2" height="1" fill="#ff50ff"/><rect x="430.0" y="208.0" width="2" height="1" fill="#ff50ff"/><rect x="394.0" y="209.0" width="2" height="1" fill="#ff50ff"/><rect x="402.0" y="209.0" width="2" height="1" fill="#ff50ff"/><rect x="410.0" y="209.0" width="2" height="1" fill="#ff50ff"/><rect x="422.0" y="209.0" width="2" height="1" fill="#ff50ff"/><rect x="424.0" y="209.0" width="2" height="1" fill="#0080ff"/><rect x="420.0" y="210.0" width="2" height="1" fill="#0000ff"/><rect x="422.0" y="210.0" width="2" height="1" fill="#ff50ff"/><rect x="424.0" y="210.0" width="2" height="1" fill="#0000ff"/><rect x="426.0" y="210.0" width="2" height="1" fill="#ff50ff"/><rect x="428.0" y="210.0" width="2" height="1" fill="#ff50ff"/><rect x="432.0" y="210.0" width="2" height="1" fill="#0000ff"/><rect x="436.0" y="210.0" width="2" height="1" fill="#ff50ff"/><rect x="400.0" y="211.0" width="2" height="1" fill="#ff50ff"/><rect x="418.0" y="211.0" width="2" height="1" fill="#ff50ff"/><rect x="420.0" y="211.0" width="2" height="1" fill="#ff50ff"/><rect x="422.0" y="211.0" width="2" height="1" fill="#ff50ff"/><rect x="424.0" y="211.0" width="2" height="1" fill="#ff50ff"/><rect x="420.0" y="212.0" width="2" height="1" fill="#ff50ff"/><rect x="424.0" y="212.0" width="2" height="1" fill="#ff50ff"/><rect x="428.0" y="212.0" width="2" height="1" fill="#0080ff"/><rect x="404.0" y="213.0" width="2" height="1" fill="#ff50ff"/><rect x="420.0" y="213.0" width="2" height="1" fill="#ff50ff"/><rect x="422.0" y="213.0" width="2" height="1" fill="#ff50ff"/><rect x="426.0" y="213.0" width="2" height="1" fill="#ff50ff"/><rect x="430.0" y="213.0" width="2" height="1" fill="#ff50ff"/><rect x="400.0" y="214.0" width="2" height="1" fill="#ff50ff"/><rect x="418.0" y="215.0" width="2" height="1" fill="#ff50ff"/><rect x="422.0" y="215.0" width="2" height="1" fill="#ff50ff"/><rect x="424.0" y="215.0" width="2" height="1" fill="#ff50ff"/><rect x="430.0" y="215.0" width="2" height="1" fill="#ff50ff"/><rect x="422.0" y="216.0" width="2" height="1" fill="#ff50ff"/><rect x="424.0" y="217.0" width="2" height="1" fill="#ff50ff"/><rect x="430.0" y="217.0" width="2" height="1" fill="#ff50ff"/><rect x="416.0" y="218.0" width="2" height="1" fill="#ff50ff"/><rect x="428.0" y="218.0" width="2" height="1" fill="#ff50ff"/><rect x="418.0" y="219.0" width="2" height="1" fill="#ff50ff"/><rect x="422.0" y="219.0" width="2" height="1" fill="#ff50ff"/><rect x="428.0" y="219.0" width="2" height="1" fill="#ff50ff"/><rect x="420.0" y="220.0" width="2" height="1" fill="#ff50ff"/><rect x="428.0" y="220.0" width="2" height="1" fill="#ff50ff"/><rect x="426.0" y="222.0" width="2" height="1" fill="#ff50ff"/><rect x="418.0" y="223.0" width="2" height="1" fill="#ff50ff"/><rect x="430.0" y="224.0" width="2" height="1" fill="#ff50ff"/><rect x="418.0" y="225.0" width="2" height="1" fill="#ff50ff"/><rect x="426.0" y="227.0" width="2" height="1" fill="#ff50ff"/><rect x="430.0" y="230.0" width="2" height="1" fill="#ff50ff"/>
<line x1="73.5" y1="240.5" x2="73.5" y2="245.5" stroke="#000" stroke-width="1"/>
<line x1="134.5" y1="240.5" x2="134.5" y2="245.5" stroke="#000" stroke-width="1"/>
<line x1="194.5" y1="240.5" x2="194.5" y2="245.5" stroke="#000" stroke-width="1"/>
<line x1="255.5" y1="240.5" x2="255.5" y2="245.5" stroke="#000" stroke-width="1"/>
<line x1="315.5" y1="240.5" x2="315.5" y2="245.5" stroke="#000" stroke-width="1"/>
<line x1="376.5" y1="240.5" x2="376.5" y2="245.5" stroke="#000" stroke-width="1"/>
<line x1="436.5" y1="240.5" x2="436.5" y2="245.5" stroke="#000" stroke-width="1"/>
<line x1="497.5" y1="240.5" x2="497.5" y2="245.5" stroke="#000" stroke-width="1"/>
<line x1="557.5" y1="240.5" x2="557.5" y2="245.5" stroke="#000" stroke-width="1"/>
<line x1="73.5" y1="245.5" x2="78.5" y2="245.5" stroke="#000" stroke-width="1"/>
<line x1="73.5" y1="201.5" x2="78.5" y2="201.5" stroke="#000" stroke-width="1"/>
<line x1="73.5" y1="157.5" x2="78.5" y2="157.5" stroke="#000" stroke-width="1"/>
<rect x="73.5" y="157.5" width="484.0" height="88.0" fill="none" stroke="#000" stroke-width="1"/>
<text x="54.70" y="161.20" font-size="11.0" textLength="12.24" lengthAdjust="spacingAndGlyphs" fill="#000" >20</text>
<text x="54.70" y="205.20" font-size="11.0" textLength="12.24" lengthAdjust="spacingAndGlyphs" fill="#000" >10</text>
<text x="62.61" y="248.80" font-size="11.0" textLength="6.12" lengthAdjust="spacingAndGlyphs" fill="#000" >0</text>
<text x="58.80" y="257.60" font-size="11.0" textLength="29.24" lengthAdjust="spacingAndGlyphs" fill="#000" >−400</text>
<text x="119.30" y="257.60" font-size="11.0" textLength="29.24" lengthAdjust="spacingAndGlyphs" fill="#000" >−300</text>
<text x="179.80" y="257.60" font-size="11.0" textLength="29.24" lengthAdjust="spacingAndGlyphs" fill="#000" >−200</text>
<text x="240.30" y="257.60" font-size="11.0" textLength="29.24" lengthAdjust="spacingAndGlyphs" fill="#000" >−100</text>
<text x="312.23" y="257.60" font-size="11.0" textLength="6.52" lengthAdjust="spacingAndGlyphs" fill="#000" >0</text>
<text x="365.80" y="257.60" font-size="11.0" textLength="19.96" lengthAdjust="spacingAndGlyphs" fill="#000" >100</text>
<text x="426.61" y="257.60" font-size="11.0" textLength="19.64" lengthAdjust="spacingAndGlyphs" fill="#000" >200</text>
<text x="487.26" y="257.60" font-size="11.0" textLength="19.49" lengthAdjust="spacingAndGlyphs" fill="#000" >300</text>
<text x="547.94" y="257.60" font-size="11.0" textLength="19.31" lengthAdjust="spacingAndGlyphs" fill="#000" >400</text>
<text x="275.89" y="263.90" font-size="11.0" textLength="79.20" lengthAdjust="spacingAndGlyphs" fill="#000" >East-West, km</text>
<text transform="translate(46.30,235.20) rotate(-90)" x="-0.03" y="0" font-size="11.0" textLength="67.56" lengthAdjust="spacingAndGlyphs">Altitude, km</text>
<path d="M595.5,168.8 L596.0,176.5 L598.8,178.2 L597.7,179.8 L599.9,183.1 L601.6,185.9 L604.3,188.4 L613.7,189.5 L610.9,192.2 L618.6,193.6 L620.3,195.0 L611.5,196.6 L621.4,197.4 L623.0,198.5 L628.5,199.9 L634.0,202.2 L618.6,204.3 L602.0,206.8 L598.8,208.5 L596.0,211.2 L595.5,217.0 L596.0,222.0 L595.5,228.0 L597.0,230.0 L595.5,232.0" fill="none" stroke="#000" stroke-width="1.6" stroke-linejoin="round"/><ellipse cx="620.8" cy="197.2" rx="2.2" ry="2" fill="#000"/><ellipse cx="599.5" cy="208.6" rx="2.2" ry="1.5" fill="#000"/><ellipse cx="597.6" cy="178.6" rx="1.6" ry="1.4" fill="#000"/><ellipse cx="596.6" cy="230" rx="1.2" ry="0.9" fill="#000"/><ellipse cx="596" cy="215.5" rx="0.9" ry="1.5" fill="#000"/>
<line x1="595.5" y1="242.5" x2="600.5" y2="242.5" stroke="#000" stroke-width="1"/>
<line x1="595.5" y1="201.5" x2="600.5" y2="201.5" stroke="#000" stroke-width="1"/>
<line x1="595.5" y1="161.5" x2="600.5" y2="161.5" stroke="#000" stroke-width="1"/>
<line x1="641.5" y1="240.5" x2="641.5" y2="245.5" stroke="#000" stroke-width="1"/>
<rect x="595.5" y="157.5" width="93.0" height="88.0" fill="none" stroke="#000" stroke-width="1"/>
<text x="577.20" y="164.90" font-size="11.0" textLength="12.24" lengthAdjust="spacingAndGlyphs" fill="#000" >20</text>
<text x="577.20" y="205.00" font-size="11.0" textLength="12.24" lengthAdjust="spacingAndGlyphs" fill="#000" >10</text>
<text x="583.31" y="245.70" font-size="11.0" textLength="6.12" lengthAdjust="spacingAndGlyphs" fill="#000" >0</text>
<text x="592.35" y="257.60" font-size="11.0" textLength="6.29" lengthAdjust="spacingAndGlyphs" fill="#000" >0</text>
<text x="635.15" y="257.60" font-size="11.0" textLength="12.60" lengthAdjust="spacingAndGlyphs" fill="#000" >50</text>
<text x="676.80" y="257.60" font-size="11.0" textLength="20.07" lengthAdjust="spacingAndGlyphs" fill="#000" >100</text>
<text x="613.32" y="165.70" font-size="9.6" textLength="50.31" lengthAdjust="spacingAndGlyphs" fill="#000" >709 sources</text>
<defs><clipPath id="mapclip"><rect x="73.5" y="273.5" width="484" height="436"/></clipPath></defs><g clip-path="url(#mapclip)">
<path fill="none" stroke="#bdbdbd" stroke-width="1" stroke-linejoin="round" d="M73.0,276.0 L121.8,276.0 M123.8,274.4 L120.4,277.7 L121.8,279.1 L117.7,280.5 L118.4,282.5 L116.4,284.5 L117.7,285.9 L114.3,288.6 L110.9,287.9 L109.6,290.6 L108.9,294.7 L106.9,298.1 L104.2,300.8 L100.1,302.1 L93.3,302.1 L90.6,304.2 L87.9,306.2 L85.2,304.8 L83.8,307.6 M211.8,278.0 L216.8,273.0 M268.4,273.7 L267.8,279.1 L265.0,282.5 L263.0,285.2 L258.9,286.6 L256.9,292.0 L253.5,295.4 L253.5,299.4 L251.5,304.2 L248.8,307.8 M298.3,273.0 L298.3,309.0 M298.3,283.5 L318.3,283.5 M318.3,273.0 L318.3,284.3 L342.5,284.3 M342.5,273.0 L342.5,284.3 L379.5,284.3 M379.5,273.0 L379.5,287.2 L395.4,287.2 M342.8,284.5 L342.8,294.0 L348.3,296.7 L348.3,299.4 L355.0,309.0 M395.4,287.2 L396.8,290.6 L396.1,294.7 L395.4,302.1 L394.1,306.2 L395.4,308.8 M395.4,287.2 L411.0,273.0 M426.6,273.5 L427.3,278.4 L430.0,283.2 L428.6,285.2 L429.3,290.6 L429.3,308.9 M429.3,290.6 L433.4,289.3 L437.4,286.6 L441.5,284.9 L446.9,284.5 L451.7,283.6 L455.0,280.5 L457.1,278.4 L462.5,274.4 L464.0,273.0 M545.5,273.0 L545.0,309.2 M116.0,309.3 L116.0,489.5 L158.0,489.5 L158.0,522.5 M158.0,309.3 L158.0,389.3 L167.5,389.3 L167.5,398.0 L166.8,398.0 L166.8,453.0 L165.5,456.0 L166.8,460.0 L166.8,502.5 L164.3,502.5 L164.3,515.5 L169.3,521.3 L178.0,513.8 L186.8,510.0 L194.3,503.8 L198.0,503.3 L211.4,503.3 M73.0,462.5 L88.0,463.8 L98.0,467.5 L108.0,471.3 L114.3,473.8 L116.0,474.0 M158.0,522.5 L133.0,526.3 L133.0,537.5 L119.3,542.5 L114.3,551.3 L98.0,510.0 L90.5,510.0 L80.5,497.5 L75.5,480.0 L73.0,478.8 M73.0,522.5 L100.5,522.5 M133.0,537.5 L132.3,650.6 M73.0,579.5 L133.0,579.5 M133.0,585.0 L211.4,585.0 M186.8,510.0 L186.8,546.3 L201.8,567.5 L203.0,577.5 L210.0,585.0 M92.5,627.5 L133.0,627.5 M92.5,627.5 L92.5,639.5 L81.8,639.5 L81.8,645.0 M211.5,369.0 L308.3,369.0 M300.3,309.0 L300.3,313.5 L293.8,317.6 L291.2,320.0 L290.5,329.0 L290.3,369.0 M290.3,355.6 L332.6,355.6 L332.6,369.3 L366.7,369.5 L359.9,371.1 L358.6,380.0 L366.7,381.3 L369.4,382.7 L372.1,380.0 L368.1,373.2 L378.9,373.2 L378.9,369.5 M308.3,369.0 L308.3,410.5 M211.5,432.0 L243.6,432.0 L243.6,411.0 L284.0,410.8 M378.9,369.8 L397.8,369.8 M397.8,371.0 L397.8,426.8 M368.3,382.7 L368.3,426.8 M381.5,309.3 L383.6,314.9 L383.0,331.2 L384.9,340.7 L384.2,347.4 L378.1,350.8 L389.0,354.9 L396.4,363.0 L407.9,367.8 L401.2,370.5 L397.8,371.0 M425.6,309.3 L426.2,314.9 L424.9,324.4 L418.1,326.4 L416.7,332.5 L418.1,340.7 L419.5,352.8 L416.1,353.5 L414.0,361.0 L407.9,369.1 M416.1,353.5 L445.2,353.5 L445.6,355.6 L493.8,355.6 M493.8,309.3 L493.8,358.5 L505.5,358.5 L505.5,363.5 L529.0,363.5 L528.8,405.5 L514.5,405.5 L514.5,414.3 L501.3,414.3 L487.0,420.5 M469.5,355.5 L475.0,371.8 L472.5,381.8 M397.8,377.0 L417.4,377.0 L436.4,382.7 L495.0,382.3 L510.0,404.3 L514.5,405.5 M528.8,384.8 L548.5,384.8 M548.5,365.5 L557.0,365.5 M548.5,391.8 L557.0,391.8 M548.5,418.0 L557.0,418.0 M548.5,444.3 L557.0,444.3 M548.5,471.3 L557.0,471.3 M548.5,500.8 L557.0,500.8 M548.5,527.0 L557.0,527.0 M548.5,552.5 L557.0,552.5 M548.5,579.5 L557.0,579.5 M548.5,605.5 L557.0,605.5 M284.0,410.8 L284.0,408.5 L290.5,408.5 L290.5,410.8 L313.3,410.8 L324.5,438.0 M314.5,416.8 L368.3,416.8 M368.3,427.5 L420.8,427.5 M421.2,416.8 L421.2,453.0 L420.6,453.0 L420.6,468.9 L443.4,468.9 M420.8,416.8 L486.3,416.8 L486.3,453.0 M324.5,438.0 L343.3,436.8 L373.3,436.8 L373.3,427.5 M314.5,432.5 L324.5,432.5 M314.5,432.5 L314.5,455.0 M314.5,454.8 L333.3,454.8 L358.3,462.5 M285.8,455.0 L285.8,521.3 M355.8,436.8 L355.8,459.3 L358.3,459.3 L358.3,474.3 L420.8,474.3 M314.5,450.0 L314.5,455.0 M443.8,453.0 L468.8,453.0 L468.8,448.0 L475.0,448.0 L475.0,443.0 L486.3,443.0 M443.8,453.0 L443.8,468.8 M486.3,453.0 L508.8,453.0 L508.8,448.0 L521.3,448.0 L521.3,443.0 L527.5,443.0 L527.5,438.0 L533.8,438.0 L533.8,432.3 L548.5,432.3 M496.8,453.0 L496.8,485.0 M508.8,448.0 L508.8,471.3 L548.5,471.3 M395.0,474.5 L420.6,474.5 M443.8,450.0 L443.8,527.5 L442.5,533.0 L442.5,542.0 L420.0,542.0 M443.8,453.0 L467.5,453.0 L467.5,450.0 M486.3,453.0 L510.0,453.0 M443.8,485.0 L450.0,485.0 L450.0,490.0 L485.0,490.0 L485.0,485.0 L502.5,485.0 L502.5,500.8 L509.5,500.8 L509.5,510.0 L521.3,510.0 L521.3,515.5 M510.0,515.5 L546.7,515.5 M510.0,515.5 L510.0,526.3 L507.0,526.3 L507.0,552.5 L446.3,552.5 M505.0,552.5 L505.0,579.5 L509.5,579.5 L509.5,610.4 M446.3,552.5 L446.3,610.4 M420.0,531.3 L405.0,531.3 M420.0,531.3 L420.0,550.0 L418.0,552.5 L418.0,579.5 L446.3,579.5 M385.8,475.0 L385.8,500.0 L379.5,500.0 L379.5,510.0 L360.8,511.3 L360.8,526.3 L397.0,526.3 L397.0,531.3 L419.5,531.3 M419.5,542.0 L441.0,542.0 M362.4,526.3 L362.4,552.5 L360.3,553.3 L360.3,610.5 M269.5,521.8 L360.8,521.8 M269.5,521.8 L269.5,538.0 L257.0,538.0 L278.3,538.0 M277.8,538.3 L278.0,551.2 L282.5,553.2 L285.9,563.4 L285.9,572.2 L290.7,574.2 M274.5,574.3 L309.0,574.3 M274.5,574.3 L274.5,579.5 L257.0,579.5 M309.0,563.8 L309.0,622.5 M309.0,563.8 L332.0,563.8 L332.0,560.0 L362.0,547.5 M257.0,579.5 L257.0,610.0 L257.5,623.3 M211.5,454.8 L314.5,454.8 M211.4,537.5 L269.5,537.5 M211.4,563.8 L222.5,563.8 L222.5,573.8 L233.0,573.8 L233.0,579.5 L239.3,579.5 L239.3,619.5 L257.0,619.5 M314.5,450.0 L314.5,454.5 M442.5,610.4 L442.3,691.7 M382.0,610.4 L382.0,645.0 L379.5,650.0 L378.0,656.0 L383.0,660.0 L390.0,664.0 L395.0,665.0 M492.7,610.4 L487.7,665.0 M494.0,610.8 L500.7,616.7 L504.0,617.5 L505.7,624.2 L510.7,626.7 L515.7,630.8 L520.7,633.3 L521.5,641.7 L524.0,645.0 L534.0,645.8 L540.7,648.3 L547.3,649.2 L557.0,653.3 M531.5,610.4 L531.5,630.8 M515.7,630.8 L557.0,630.8 M546.2,605.3 L557.0,605.3 M487.7,665.0 L440.7,691.7 M487.7,665.0 L517.3,685.0 M517.3,685.0 L549.0,649.2 M517.3,685.0 L550.7,709.5 M440.7,691.7 L494.0,705.0 L504.8,706.7 M504.8,709.5 L524.8,691.7 M400.0,700.9 L404.1,700.9 L404.7,709.1 M420.3,709.1 L420.3,705.0 L423.7,705.0 L423.7,709.1 M428.5,709.1 L429.1,702.3 L432.5,700.3 L437.3,700.3 L439.3,703.0 L443.4,703.7 M446.5,600.0 L446.5,610.4 M509.3,600.0 L509.3,610.4 M335.0,623.3 L335.8,630.0 L332.5,632.5 L340.0,634.2 L340.8,643.3 L342.5,645.0 L336.7,647.5 L329.2,650.0 L328.3,653.3 L331.7,658.3 L335.0,662.5 L340.8,661.7 L345.8,660.0 L353.3,660.8 L355.0,659.2 L363.3,660.8 L365.8,660.0 L366.7,648.3 L368.3,644.2 M333.6,661.9 L324.1,665.3 L322.0,676.2 L324.1,681.6 L318.0,688.4 L321.4,697.2 L314.6,708.7 M363.3,660.8 L365.0,665.0 L371.7,671.7 L376.7,673.3 L379.2,681.7 L388.3,681.7 L396.7,685.0 L398.3,693.3 L403.3,700.0 L404.2,709.5 M258.3,650.6 L258.3,657.5 L263.3,663.3 L264.2,666.7 L268.3,669.2 L270.0,676.7 L271.7,683.3 L273.3,690.8 L274.2,700.0 L273.3,709.5 M271.2,681.6 L280.7,679.6 L286.1,681.6 L290.9,687.7 L296.3,684.3 L302.4,685.0 L305.8,681.6 L309.8,685.0 L314.6,682.9 L317.3,679.6 L322.7,679.6 M297.7,685.7 L302.4,693.8 L301.0,701.9 L302.4,708.7 M272.6,691.1 L267.2,690.4 L263.8,691.7 L260.4,696.5 L257.7,703.3 L258.4,708.7 M382.0,645.0 L380.0,650.0 L378.0,656.0 L382.0,661.0 L392.0,665.0 M121.3,651.7 L120.3,654.5 L119.7,657.5 L116.9,658.8 L114.7,660.8 L115.0,663.9 L116.3,666.7 L119.4,667.0 L122.2,665.8 L123.8,667.8 L125.6,669.7 L128.0,670.8 L129.7,669.2 L129.9,666.8 L131.5,665.1 L133.2,663.4 L133.7,661.2 L135.1,659.4 L134.8,656.7 L136.3,655.0 L139.7,652.5 M139.7,652.5 L141.4,654.5 L143.0,656.7 L145.4,657.1 L147.6,658.4 L149.8,659.3 L152.2,660.0 L154.6,660.0 L156.3,661.7 L159.0,662.0 L161.3,663.3 L163.7,664.7 L165.5,666.7 L168.0,665.8 L170.3,666.3 L172.5,665.8 L174.7,665.0 L174.6,662.6 L176.3,660.7 L176.3,658.3 L174.6,656.4 L174.3,653.8 L173.0,651.7 M129.7,670.0 L129.8,672.9 L129.4,675.7 L128.0,678.3 L127.8,680.9 L128.8,683.3 L131.9,683.7 L134.7,685.0 L137.0,684.7 L139.3,686.2 L141.6,686.2 L144.0,685.3 L146.3,685.8 L149.7,684.2 L152.2,683.4 L153.9,681.3 L156.1,680.1 L158.0,678.3 L159.7,676.7 L158.0,675.0 L159.1,673.0 L161.6,672.2 L162.8,670.2 L164.6,668.9 L165.5,666.7 M159.7,676.7 L161.2,678.6 L163.8,679.1 L165.5,680.8 L166.6,683.3 L167.7,685.6 L168.6,688.1 L169.6,690.6 L169.7,693.3 L166.3,694.2 L168.3,695.6 L169.5,697.6 L171.3,699.2 L173.7,698.6 L175.7,700.0 L178.0,700.0 L179.4,697.8 L181.1,695.8 L183.4,694.4 L184.6,692.0 L186.3,690.0 L189.0,688.8 L191.9,688.3 L194.7,687.5 L194.8,685.1 L193.3,682.9 L194.7,680.3 L192.7,678.2 L193.7,675.6 L193.0,673.3 L193.0,670.9 L190.9,669.0 L191.6,666.3 L190.5,664.2 L188.0,663.3 L186.5,665.2 L184.7,666.7 L181.9,666.2 L179.0,667.0 L176.3,665.8 M146.3,685.8 L143.8,687.5 L145.9,688.9 L147.2,690.9 L147.6,693.6 L149.7,695.0 L152.2,695.9 L153.9,698.2 L156.3,699.2 L158.6,700.7 L161.1,701.6 L163.9,701.4 L166.3,702.5 L169.2,702.2 L172.2,702.5 L171.8,704.7 L171.1,706.9 L171.3,709.2 M134.7,685.0 L133.6,687.9 L131.3,690.0 L133.0,691.7 L130.5,695.0 L130.5,697.6 L131.3,700.0 L132.6,702.8 L134.7,705.0 L133.8,709.2 M130.5,695.0 L128.0,694.4 L125.5,695.8 L123.0,695.0 L120.9,693.0 L118.0,692.5 L116.3,693.3 L115.5,697.5 L112.2,700.0 L112.0,702.7 L110.5,705.0 L111.3,709.2 M115.5,693.3 L113.6,691.4 L112.2,689.2 L109.9,688.6 L107.7,687.6 L105.2,688.2 L103.0,687.5 L102.9,685.0 L101.4,683.0 L100.5,680.8 L99.9,678.7 L99.6,676.4 L99.7,674.2 L98.0,670.8 L100.7,669.7 L103.4,669.0 L106.3,669.2 L108.7,667.9 L111.4,668.2 L114.1,668.2 L116.3,666.7 M98.0,670.8 L95.2,670.1 L93.0,668.3 L89.7,668.3 L86.3,670.0 L87.7,672.6 L86.6,675.7 L88.0,678.3 L90.5,679.6 L93.0,680.8 L89.7,681.7 L88.1,683.9 L86.3,685.8 L88.8,687.5 L87.8,689.7 L85.9,691.3 L84.7,693.3 L85.3,695.8 L87.0,697.7 L88.0,700.0 L90.6,701.1 L93.0,702.5 L92.6,705.1 L90.1,706.6 L89.7,709.2 M88.8,687.5 L92.2,690.0 L94.7,692.5 L97.2,693.0 L98.8,695.0 L100.5,697.5 L102.2,695.8 L104.7,697.9 L107.2,700.0 L110.5,701.7 M73.0,694.2 L75.5,694.8 L78.0,693.5 L80.5,694.6 L83.0,694.2 L84.7,693.3 M73.0,661.7 L74.1,663.9 L76.3,665.0 L78.0,666.7 L75.5,670.0 L78.0,671.7 M73.0,678.3 L76.3,680.0 L75.7,682.5 L75.5,685.0 L77.2,688.3 L74.8,689.1 L73.0,690.8 M83.0,651.7 L83.3,654.3 L82.2,656.7 L83.9,658.7 L85.5,660.8 L87.7,662.5 L88.8,665.0 L86.1,665.2 L83.8,666.7 L84.7,668.3 L87.2,668.0 L89.7,668.3 M189.7,703.3 L193.0,702.5 L196.0,705.0 M190.0,688.3 L192.2,687.7 L194.7,688.1 L196.7,686.7 L198.8,685.0 L200.0,682.5 L202.9,683.1 L205.5,681.9 L208.3,681.7 L210.0,680.0 L211.7,678.3 L214.2,678.7 L216.7,678.3 M196.7,686.7 L198.4,689.1 L200.0,691.7 L202.4,693.0 L204.5,694.9 L206.7,696.7 L206.4,699.4 L205.0,701.7 L203.5,703.5 L201.0,704.4 L200.0,706.7 M191.7,663.3 L191.4,665.8 L192.6,667.8 L193.3,670.0 L193.1,672.8 L193.1,675.6 L192.5,678.3 L190.0,681.7 M206.7,696.7 L209.1,695.7 L211.6,695.8 L214.2,696.5 L216.7,695.8 L219.2,693.3 M211.7,678.3 L210.7,681.0 L211.4,683.9 L210.8,686.7 L213.3,687.2 L215.8,686.7 M190.0,706.7 L192.4,707.0 L194.7,706.7 L197.0,706.5 L199.4,706.5 L201.6,705.6 L204.0,706.0 L206.3,705.1 L208.7,705.3 L211.0,705.7 L213.3,705.0 L215.7,705.3 L218.1,704.6 L220.5,705.8 L222.9,705.3 L225.2,705.1 L227.6,704.1 L230.0,705.0 L232.9,704.2 L235.8,703.3"/>
<path fill="none" stroke="#ff0000" stroke-width="1.15" stroke-linejoin="round" d="M73.0,308.5 L132.2,308.5 L132.6,309.3 L332.0,308.9 L332.4,309.5 L557.0,308.7 M211.5,273.0 L211.5,650.5 M549.5,308.5 L549.5,339.5 L557.0,339.5 M548.5,339.5 L548.5,450.0 L546.5,610.5 M346.7,610.5 L546.5,610.5 M73.0,642.5 L98.0,650.5 L258.5,650.5 L258.5,623.5 L349.2,623.5 M349.2,623.5 L347.5,621.7 L345.8,618.3 L345.3,611.7 L346.7,610.5 M349.2,623.3 L354.2,625.0 L358.3,625.8 L361.7,628.3 L365.8,635.8 L370.0,642.5 L376.7,645.8 L381.7,647.5 L386.7,652.5 L395.0,660.8 L403.3,665.8 L406.7,671.7 L415.0,678.3 L418.3,681.7 L426.7,683.3 L434.0,690.0 L437.3,690.8 L439.8,694.2 L443.2,696.7 L444.8,703.3 L446.5,709.5 M227.5,650.6 L225.0,656.7 L219.7,658.3 L222.5,660.0 L223.3,664.2 L227.5,666.7 L229.2,669.2 L231.3,670.0 L225.8,670.8 L224.7,676.7 L217.5,676.7 L217.0,686.7 L220.0,688.3 L220.8,693.3 L225.0,695.8 L229.2,696.7 L232.5,700.0 L233.7,703.3 L235.0,705.0 L234.2,709.5"/>
<!--MAPPOINTS--><rect x="392.0" y="404.0" width="2" height="2" fill="#ff50ff"/><rect x="396.0" y="406.0" width="2" height="2" fill="#ff50ff"/><rect x="400.0" y="406.0" width="2" height="2" fill="#ff50ff"/><rect x="392.0" y="408.0" width="2" height="2" fill="#ff50ff"/><rect x="394.0" y="408.0" width="2" height="2" fill="#0000ff"/><rect x="396.0" y="408.0" width="2" height="2" fill="#0000ff"/><rect x="398.0" y="408.0" width="2" height="2" fill="#0000ff"/><rect x="400.0" y="408.0" width="2" height="2" fill="#ff50ff"/><rect x="402.0" y="408.0" width="2" height="2" fill="#ff50ff"/><rect x="390.0" y="410.0" width="2" height="2" fill="#ff50ff"/><rect x="394.0" y="410.0" width="2" height="2" fill="#ff50ff"/><rect x="396.0" y="410.0" width="2" height="2" fill="#ff50ff"/><rect x="398.0" y="410.0" width="2" height="2" fill="#ff50ff"/><rect x="400.0" y="410.0" width="2" height="2" fill="#0000ff"/><rect x="404.0" y="410.0" width="2" height="2" fill="#ff50ff"/><rect x="388.0" y="412.0" width="2" height="2" fill="#0080ff"/><rect x="392.0" y="412.0" width="2" height="2" fill="#0000ff"/><rect x="394.0" y="412.0" width="2" height="2" fill="#00ffff"/><rect x="396.0" y="412.0" width="2" height="2" fill="#0000ff"/><rect x="398.0" y="412.0" width="2" height="2" fill="#00ff00"/><rect x="400.0" y="412.0" width="2" height="2" fill="#00ffff"/><rect x="402.0" y="412.0" width="2" height="2" fill="#0080ff"/><rect x="404.0" y="412.0" width="2" height="2" fill="#0000ff"/><rect x="388.0" y="414.0" width="2" height="2" fill="#ff50ff"/><rect x="390.0" y="414.0" width="2" height="2" fill="#0000ff"/><rect x="396.0" y="414.0" width="2" height="2" fill="#00ffff"/><rect x="398.0" y="414.0" width="2" height="2" fill="#0000ff"/><rect x="400.0" y="414.0" width="2" height="2" fill="#008040"/><rect x="404.0" y="414.0" width="2" height="2" fill="#0000ff"/><rect x="406.0" y="414.0" width="2" height="2" fill="#ff50ff"/><rect x="408.0" y="414.0" width="2" height="2" fill="#ff50ff"/><rect x="410.0" y="414.0" width="2" height="2" fill="#ff50ff"/><rect x="392.0" y="416.0" width="2" height="2" fill="#ff50ff"/><rect x="394.0" y="416.0" width="2" height="2" fill="#0000ff"/><rect x="396.0" y="416.0" width="2" height="2" fill="#00ff00"/><rect x="398.0" y="416.0" width="2" height="2" fill="#00ff00"/><rect x="400.0" y="416.0" width="2" height="2" fill="#408080"/><rect x="402.0" y="416.0" width="2" height="2" fill="#408080"/><rect x="404.0" y="416.0" width="2" height="2" fill="#00ffff"/><rect x="406.0" y="416.0" width="2" height="2" fill="#0080ff"/><rect x="408.0" y="416.0" width="2" height="2" fill="#ff50ff"/><rect x="412.0" y="416.0" width="2" height="2" fill="#ff50ff"/><rect x="396.0" y="418.0" width="2" height="2" fill="#ff50ff"/><rect x="398.0" y="418.0" width="2" height="2" fill="#00ffff"/><rect x="400.0" y="418.0" width="2" height="2" fill="#00ff00"/><rect x="402.0" y="418.0" width="2" height="2" fill="#0000ff"/><rect x="404.0" y="418.0" width="2" height="2" fill="#0000ff"/><rect x="406.0" y="418.0" width="2" height="2" fill="#00ff00"/><rect x="410.0" y="418.0" width="2" height="2" fill="#ff50ff"/><rect x="400.0" y="420.0" width="2" height="2" fill="#0000ff"/><rect x="404.0" y="420.0" width="2" height="2" fill="#0000ff"/><rect x="406.0" y="420.0" width="2" height="2" fill="#00ffff"/><rect x="410.0" y="420.0" width="2" height="2" fill="#0000ff"/><rect x="412.0" y="420.0" width="2" height="2" fill="#ff50ff"/><rect x="396.0" y="422.0" width="2" height="2" fill="#ff50ff"/><rect x="400.0" y="422.0" width="2" height="2" fill="#ff50ff"/><rect x="404.0" y="422.0" width="2" height="2" fill="#0080ff"/><rect x="406.0" y="422.0" width="2" height="2" fill="#ff50ff"/><rect x="408.0" y="422.0" width="2" height="2" fill="#0080ff"/><rect x="410.0" y="422.0" width="2" height="2" fill="#ff50ff"/><rect x="402.0" y="424.0" width="2" height="2" fill="#ff50ff"/><rect x="404.0" y="424.0" width="2" height="2" fill="#ff50ff"/><rect x="406.0" y="424.0" width="2" height="2" fill="#ff50ff"/><rect x="408.0" y="424.0" width="2" height="2" fill="#ff50ff"/><rect x="414.0" y="424.0" width="2" height="2" fill="#ff50ff"/><rect x="400.0" y="426.0" width="2" height="2" fill="#ff50ff"/><rect x="410.0" y="426.0" width="2" height="2" fill="#ff50ff"/><rect x="412.0" y="426.0" width="2" height="2" fill="#ff50ff"/><rect x="414.0" y="467.0" width="2" height="1.5" fill="#ff50ff"/><rect x="410.0" y="468.5" width="2" height="1.5" fill="#ff50ff"/><rect x="416.0" y="468.5" width="2" height="1.5" fill="#ff50ff"/><rect x="422.0" y="468.5" width="2" height="1.5" fill="#ff50ff"/><rect x="424.0" y="468.5" width="2" height="1.5" fill="#ff50ff"/><rect x="432.0" y="468.5" width="2" height="1.5" fill="#0000ff"/><rect x="410.0" y="470.0" width="2" height="1.5" fill="#ff50ff"/><rect x="412.0" y="470.0" width="2" height="1.5" fill="#ff50ff"/><rect x="416.0" y="470.0" width="2" height="1.5" fill="#0000ff"/><rect x="418.0" y="470.0" width="2" height="1.5" fill="#0000ff"/><rect x="420.0" y="470.0" width="2" height="1.5" fill="#ff50ff"/><rect x="422.0" y="470.0" width="2" height="1.5" fill="#408080"/><rect x="424.0" y="470.0" width="2" height="1.5" fill="#00ff00"/><rect x="426.0" y="470.0" width="2" height="1.5" fill="#0080ff"/><rect x="428.0" y="470.0" width="2" height="1.5" fill="#0000ff"/><rect x="432.0" y="470.0" width="2" height="1.5" fill="#ff50ff"/><rect x="434.0" y="470.0" width="2" height="1.5" fill="#ff50ff"/><rect x="412.0" y="471.5" width="2" height="1.5" fill="#ff50ff"/><rect x="416.0" y="471.5" width="2" height="1.5" fill="#ff50ff"/><rect x="418.0" y="471.5" width="2" height="1.5" fill="#0080ff"/><rect x="420.0" y="471.5" width="2" height="1.5" fill="#ffff00"/><rect x="422.0" y="471.5" width="2" height="1.5" fill="#ff0080"/><rect x="424.0" y="471.5" width="2" height="1.5" fill="#ff0080"/><rect x="426.0" y="471.5" width="2" height="1.5" fill="#ffff00"/><rect x="428.0" y="471.5" width="2" height="1.5" fill="#408080"/><rect x="430.0" y="471.5" width="2" height="1.5" fill="#00ffff"/><rect x="432.0" y="471.5" width="2" height="1.5" fill="#ff50ff"/><rect x="434.0" y="471.5" width="2" height="1.5" fill="#ff50ff"/><rect x="410.0" y="473.0" width="2" height="1.5" fill="#ff50ff"/><rect x="414.0" y="473.0" width="2" height="1.5" fill="#ff50ff"/><rect x="416.0" y="473.0" width="2" height="1.5" fill="#ff50ff"/><rect x="418.0" y="473.0" width="2" height="1.5" fill="#00ffff"/><rect x="420.0" y="473.0" width="2" height="1.5" fill="#00ff00"/><rect x="422.0" y="473.0" width="2" height="1.5" fill="#408080"/><rect x="424.0" y="473.0" width="2" height="1.5" fill="#ffff00"/><rect x="426.0" y="473.0" width="2" height="1.5" fill="#008040"/><rect x="428.0" y="473.0" width="2" height="1.5" fill="#00ff00"/><rect x="432.0" y="473.0" width="2" height="1.5" fill="#ff50ff"/><rect x="416.0" y="474.5" width="2" height="1.5" fill="#ff50ff"/><rect x="420.0" y="474.5" width="2" height="1.5" fill="#0080ff"/><rect x="428.0" y="474.5" width="2" height="1.5" fill="#0000ff"/><rect x="410.0" y="476.0" width="2" height="1.5" fill="#ff50ff"/><rect x="418.0" y="476.0" width="2" height="1.5" fill="#ff50ff"/><rect x="420.0" y="476.0" width="2" height="1.5" fill="#0000ff"/><rect x="422.0" y="476.0" width="2" height="1.5" fill="#0000ff"/><rect x="424.0" y="476.0" width="2" height="1.5" fill="#ff50ff"/><rect x="426.0" y="476.0" width="2" height="1.5" fill="#ff50ff"/><rect x="434.0" y="476.0" width="2" height="1.5" fill="#ff50ff"/><rect x="402.0" y="470.0" width="2" height="1.5" fill="#ff50ff"/><rect x="396.0" y="473.0" width="2" height="1.5" fill="#ff50ff"/><rect x="400.0" y="474.5" width="2" height="1.5" fill="#ff50ff"/><rect x="402.0" y="474.5" width="2" height="1.5" fill="#ff50ff"/><rect x="396.0" y="476.0" width="2" height="1.5" fill="#0000ff"/><rect x="398.0" y="476.0" width="2" height="1.5" fill="#408080"/><rect x="400.0" y="476.0" width="2" height="1.5" fill="#ff50ff"/><rect x="402.0" y="476.0" width="2" height="1.5" fill="#ff50ff"/><rect x="394.0" y="477.5" width="2" height="1.5" fill="#0000ff"/><rect x="396.0" y="477.5" width="2" height="1.5" fill="#ff50ff"/><rect x="398.0" y="477.5" width="2" height="1.5" fill="#0000ff"/><rect x="400.0" y="477.5" width="2" height="1.5" fill="#ff50ff"/><rect x="402.0" y="477.5" width="2" height="1.5" fill="#ff50ff"/><rect x="398.0" y="479.0" width="2" height="1.5" fill="#0000ff"/><rect x="406.0" y="479.0" width="2" height="1.5" fill="#ff50ff"/><rect x="396.0" y="480.5" width="2" height="1.5" fill="#ff50ff"/><rect x="404.0" y="480.5" width="2" height="1.5" fill="#ff50ff"/><rect x="408.0" y="480.5" width="2" height="1.5" fill="#ff50ff"/><rect x="396.0" y="482.0" width="2" height="1.5" fill="#ff50ff"/><rect x="400.0" y="482.0" width="2" height="1.5" fill="#ff50ff"/><rect x="402.0" y="482.0" width="2" height="1.5" fill="#0080ff"/><rect x="408.0" y="482.0" width="2" height="1.5" fill="#ff50ff"/><rect x="396.0" y="483.5" width="2" height="1.5" fill="#ff50ff"/><rect x="400.0" y="483.5" width="2" height="1.5" fill="#ff50ff"/><rect x="402.0" y="483.5" width="2" height="1.5" fill="#0000ff"/><rect x="404.0" y="483.5" width="2" height="1.5" fill="#ff50ff"/><rect x="406.0" y="483.5" width="2" height="1.5" fill="#0000ff"/><rect x="396.0" y="485.0" width="2" height="1.5" fill="#ff50ff"/><rect x="398.0" y="485.0" width="2" height="1.5" fill="#00ffff"/><rect x="400.0" y="485.0" width="2" height="1.5" fill="#ff50ff"/><rect x="402.0" y="485.0" width="2" height="1.5" fill="#0080ff"/><rect x="404.0" y="485.0" width="2" height="1.5" fill="#ff50ff"/><rect x="406.0" y="485.0" width="2" height="1.5" fill="#0080ff"/><rect x="400.0" y="486.5" width="2" height="1.5" fill="#ff50ff"/><rect x="402.0" y="486.5" width="2" height="1.5" fill="#0000ff"/><rect x="404.0" y="486.5" width="2" height="1.5" fill="#0000ff"/><rect x="406.0" y="486.5" width="2" height="1.5" fill="#00ffff"/><rect x="396.0" y="488.0" width="2" height="1.5" fill="#ff50ff"/><rect x="402.0" y="488.0" width="2" height="1.5" fill="#ff50ff"/><rect x="410.0" y="488.0" width="2" height="1.5" fill="#ff50ff"/><rect x="400.0" y="489.5" width="2" height="1.5" fill="#ff50ff"/><rect x="404.0" y="491.0" width="2" height="1.5" fill="#ff50ff"/><rect x="386.0" y="476.0" width="2" height="2" fill="#008040"/><rect x="387.3" y="493.2" width="1.5" height="1.5" fill="#ff50ff"/><rect x="390.6" y="491.6" width="1.5" height="1.5" fill="#ff50ff"/><rect x="403.6" y="494.0" width="1.5" height="1.5" fill="#ff50ff"/><rect x="410.9" y="493.2" width="1.5" height="1.5" fill="#ff50ff"/><rect x="415.0" y="484.3" width="1.5" height="1.5" fill="#ff50ff"/><rect x="423.0" y="494.0" width="1.5" height="1.5" fill="#ff50ff"/><rect x="428.8" y="496.5" width="1.5" height="1.5" fill="#ff50ff"/><rect x="436.9" y="474.5" width="1.5" height="1.5" fill="#ff50ff"/><rect x="437.7" y="483.5" width="1.5" height="1.5" fill="#ff50ff"/><rect x="439.3" y="484.3" width="1.5" height="1.5" fill="#ff50ff"/><rect x="429.6" y="482.6" width="1.5" height="1.5" fill="#ff50ff"/><rect x="463.7" y="500.5" width="1.5" height="1.5" fill="#ff50ff"/><rect x="490.0" y="490.0" width="2" height="1" fill="#0000ff"/><rect x="334.5" y="417.5" width="6" height="6" fill="none" stroke="#7cfc00" stroke-width="1.1"/><rect x="353.3" y="430.5" width="6" height="6" fill="none" stroke="#7cfc00" stroke-width="1.1"/><rect x="379.3" y="428.3" width="6" height="6" fill="none" stroke="#7cfc00" stroke-width="1.1"/><rect x="332.4" y="448.5" width="6" height="6" fill="none" stroke="#7cfc00" stroke-width="1.1"/><rect x="318.3" y="475.2" width="6" height="6" fill="none" stroke="#7cfc00" stroke-width="1.1"/><rect x="306.5" y="481.6" width="6" height="6" fill="none" stroke="#7cfc00" stroke-width="1.1"/><rect x="318.3" y="482.3" width="6" height="6" fill="none" stroke="#7cfc00" stroke-width="1.1"/><rect x="301.2" y="486.5" width="6" height="6" fill="none" stroke="#7cfc00" stroke-width="1.1"/><rect x="308.2" y="486.5" width="6" height="6" fill="none" stroke="#7cfc00" stroke-width="1.1"/><rect x="304.4" y="489.3" width="6" height="6" fill="none" stroke="#7cfc00" stroke-width="1.1"/><rect x="312.4" y="487.9" width="6" height="6" fill="none" stroke="#7cfc00" stroke-width="1.1"/><rect x="320.2" y="487.2" width="6" height="6" fill="none" stroke="#7cfc00" stroke-width="1.1"/><rect x="329.3" y="486.5" width="6" height="6" fill="none" stroke="#7cfc00" stroke-width="1.1"/><rect x="318.3" y="494.3" width="6" height="6" fill="none" stroke="#7cfc00" stroke-width="1.1"/><rect x="321.6" y="501.3" width="6" height="6" fill="none" stroke="#7cfc00" stroke-width="1.1"/><rect x="316.2" y="509.3" width="6" height="6" fill="none" stroke="#7cfc00" stroke-width="1.1"/><!--/MAPPOINTS-->
</g>
<line x1="102.5" y1="704.5" x2="102.5" y2="709.5" stroke="#000" stroke-width="1"/>
<line x1="158.5" y1="704.5" x2="158.5" y2="709.5" stroke="#000" stroke-width="1"/>
<line x1="214.5" y1="704.5" x2="214.5" y2="709.5" stroke="#000" stroke-width="1"/>
<line x1="270.5" y1="704.5" x2="270.5" y2="709.5" stroke="#000" stroke-width="1"/>
<line x1="326.5" y1="704.5" x2="326.5" y2="709.5" stroke="#000" stroke-width="1"/>
<line x1="382.5" y1="704.5" x2="382.5" y2="709.5" stroke="#000" stroke-width="1"/>
<line x1="438.5" y1="704.5" x2="438.5" y2="709.5" stroke="#000" stroke-width="1"/>
<line x1="494.5" y1="704.5" x2="494.5" y2="709.5" stroke="#000" stroke-width="1"/>
<line x1="550.5" y1="704.5" x2="550.5" y2="709.5" stroke="#000" stroke-width="1"/>
<line x1="73.5" y1="308.5" x2="78.5" y2="308.5" stroke="#000" stroke-width="1"/>
<line x1="73.5" y1="369.5" x2="78.5" y2="369.5" stroke="#000" stroke-width="1"/>
<line x1="73.5" y1="430.5" x2="78.5" y2="430.5" stroke="#000" stroke-width="1"/>
<line x1="73.5" y1="490.5" x2="78.5" y2="490.5" stroke="#000" stroke-width="1"/>
<line x1="73.5" y1="550.5" x2="78.5" y2="550.5" stroke="#000" stroke-width="1"/>
<line x1="73.5" y1="611.5" x2="78.5" y2="611.5" stroke="#000" stroke-width="1"/>
<line x1="73.5" y1="671.5" x2="78.5" y2="671.5" stroke="#000" stroke-width="1"/>
<rect x="73.5" y="273.5" width="484.0" height="436.0" fill="none" stroke="#000" stroke-width="1"/>
<text x="55.74" y="312.80" font-size="11.0" textLength="12.24" lengthAdjust="spacingAndGlyphs" fill="#000" >37</text>
<text x="55.66" y="373.30" font-size="11.0" textLength="12.24" lengthAdjust="spacingAndGlyphs" fill="#000" >36</text>
<text x="55.63" y="433.80" font-size="11.0" textLength="12.24" lengthAdjust="spacingAndGlyphs" fill="#000" >35</text>
<text x="55.49" y="494.30" font-size="11.0" textLength="12.24" lengthAdjust="spacingAndGlyphs" fill="#000" >34</text>
<text x="55.66" y="554.80" font-size="11.0" textLength="12.24" lengthAdjust="spacingAndGlyphs" fill="#000" >33</text>
<text x="55.74" y="615.30" font-size="11.0" textLength="12.24" lengthAdjust="spacingAndGlyphs" fill="#000" >32</text>
<text x="55.71" y="675.80" font-size="11.0" textLength="12.24" lengthAdjust="spacingAndGlyphs" fill="#000" >31</text>
<text x="87.91" y="722.00" font-size="11.0" textLength="28.96" lengthAdjust="spacingAndGlyphs" fill="#000" >−111</text>
<text x="143.94" y="722.00" font-size="11.0" textLength="28.77" lengthAdjust="spacingAndGlyphs" fill="#000" >−110</text>
<text x="199.96" y="722.00" font-size="11.0" textLength="28.82" lengthAdjust="spacingAndGlyphs" fill="#000" >−109</text>
<text x="255.96" y="722.00" font-size="11.0" textLength="28.78" lengthAdjust="spacingAndGlyphs" fill="#000" >−108</text>
<text x="311.96" y="722.00" font-size="11.0" textLength="28.88" lengthAdjust="spacingAndGlyphs" fill="#000" >−107</text>
<text x="367.96" y="722.00" font-size="11.0" textLength="28.78" lengthAdjust="spacingAndGlyphs" fill="#000" >−106</text>
<text x="423.96" y="722.00" font-size="11.0" textLength="28.75" lengthAdjust="spacingAndGlyphs" fill="#000" >−105</text>
<text x="479.97" y="722.00" font-size="11.0" textLength="28.58" lengthAdjust="spacingAndGlyphs" fill="#000" >−104</text>
<text x="535.96" y="722.00" font-size="11.0" textLength="28.78" lengthAdjust="spacingAndGlyphs" fill="#000" >−103</text>
<text x="287.67" y="740.70" font-size="11.0" textLength="54.97" lengthAdjust="spacingAndGlyphs" fill="#000" >Longitude</text>
<text transform="translate(47.30,515.00) rotate(-90)" x="-1.04" y="0" font-size="11.0" textLength="44.79" lengthAdjust="spacingAndGlyphs">Latitude</text>
<line x1="595.5" y1="327.0" x2="688.5" y2="327.0" stroke="#000" stroke-opacity="0.06" stroke-width="2"/>
<line x1="595.5" y1="382.0" x2="688.5" y2="382.0" stroke="#000" stroke-opacity="0.06" stroke-width="2"/>
<line x1="595.5" y1="436.0" x2="688.5" y2="436.0" stroke="#000" stroke-opacity="0.06" stroke-width="2"/>
<line x1="595.5" y1="491.0" x2="688.5" y2="491.0" stroke="#000" stroke-opacity="0.06" stroke-width="2"/>
<line x1="595.5" y1="545.0" x2="688.5" y2="545.0" stroke="#000" stroke-opacity="0.06" stroke-width="2"/>
<line x1="595.5" y1="600.0" x2="688.5" y2="600.0" stroke="#000" stroke-opacity="0.06" stroke-width="2"/>
<line x1="595.5" y1="654.0" x2="688.5" y2="654.0" stroke="#000" stroke-opacity="0.06" stroke-width="2"/>
<line x1="641" y1="273.5" x2="641" y2="709.5" stroke="#000" stroke-opacity="0.06" stroke-width="2"/>
<rect x="635.0" y="406.0" width="1" height="2" fill="#ff50ff"/><rect x="637.0" y="406.0" width="1" height="2" fill="#ff50ff"/><rect x="638.0" y="406.0" width="1" height="2" fill="#ff50ff"/><rect x="643.0" y="406.0" width="1" height="2" fill="#ff50ff"/><rect x="631.0" y="408.0" width="1" height="2" fill="#ff50ff"/><rect x="633.0" y="408.0" width="1" height="2" fill="#0000ff"/><rect x="635.0" y="408.0" width="1" height="2" fill="#0000ff"/><rect x="637.0" y="408.0" width="1" height="2" fill="#ff50ff"/><rect x="639.0" y="408.0" width="1" height="2" fill="#ff50ff"/><rect x="640.0" y="408.0" width="1" height="2" fill="#ff50ff"/><rect x="642.0" y="408.0" width="1" height="2" fill="#00ff00"/><rect x="637.0" y="410.0" width="1" height="2" fill="#ff50ff"/><rect x="638.0" y="410.0" width="1" height="2" fill="#008040"/><rect x="639.0" y="410.0" width="1" height="2" fill="#0000ff"/><rect x="640.0" y="410.0" width="1" height="2" fill="#00ffff"/><rect x="642.0" y="410.0" width="1" height="2" fill="#408080"/><rect x="643.0" y="410.0" width="1" height="2" fill="#0000ff"/><rect x="644.0" y="410.0" width="1" height="2" fill="#ff50ff"/><rect x="645.0" y="410.0" width="1" height="2" fill="#ff50ff"/><rect x="647.0" y="410.0" width="1" height="2" fill="#ff50ff"/><rect x="630.0" y="412.0" width="1" height="2" fill="#ff50ff"/><rect x="636.0" y="412.0" width="1" height="2" fill="#0000ff"/><rect x="637.0" y="412.0" width="1" height="2" fill="#0000ff"/><rect x="638.0" y="412.0" width="1" height="2" fill="#0000ff"/><rect x="639.0" y="412.0" width="1" height="2" fill="#0000ff"/><rect x="640.0" y="412.0" width="1" height="2" fill="#408080"/><rect x="641.0" y="412.0" width="1" height="2" fill="#0000ff"/><rect x="642.0" y="412.0" width="1" height="2" fill="#00ffff"/><rect x="643.0" y="412.0" width="1" height="2" fill="#0000ff"/><rect x="644.0" y="412.0" width="1" height="2" fill="#0080ff"/><rect x="645.0" y="412.0" width="1" height="2" fill="#ff50ff"/><rect x="646.0" y="412.0" width="1" height="2" fill="#0080ff"/><rect x="647.0" y="412.0" width="1" height="2" fill="#0000ff"/><rect x="648.0" y="412.0" width="1" height="2" fill="#0000ff"/><rect x="652.0" y="412.0" width="1" height="2" fill="#ff50ff"/><rect x="636.0" y="414.0" width="1" height="2" fill="#0000ff"/><rect x="639.0" y="414.0" width="1" height="2" fill="#00ffff"/><rect x="640.0" y="414.0" width="1" height="2" fill="#0000ff"/><rect x="641.0" y="414.0" width="1" height="2" fill="#ff50ff"/><rect x="642.0" y="414.0" width="1" height="2" fill="#0000ff"/><rect x="643.0" y="414.0" width="1" height="2" fill="#0080ff"/><rect x="644.0" y="414.0" width="1" height="2" fill="#0080ff"/><rect x="645.0" y="414.0" width="1" height="2" fill="#00ffff"/><rect x="646.0" y="414.0" width="1" height="2" fill="#0000ff"/><rect x="647.0" y="414.0" width="1" height="2" fill="#00ff00"/><rect x="648.0" y="414.0" width="1" height="2" fill="#ff50ff"/><rect x="649.0" y="414.0" width="1" height="2" fill="#ff50ff"/><rect x="651.0" y="414.0" width="1" height="2" fill="#ff50ff"/><rect x="654.0" y="414.0" width="1" height="2" fill="#ff50ff"/><rect x="657.0" y="414.0" width="1" height="2" fill="#ff50ff"/><rect x="636.0" y="416.0" width="1" height="2" fill="#ff50ff"/><rect x="640.0" y="416.0" width="1" height="2" fill="#0080ff"/><rect x="641.0" y="416.0" width="1" height="2" fill="#008040"/><rect x="642.0" y="416.0" width="1" height="2" fill="#ff50ff"/><rect x="643.0" y="416.0" width="1" height="2" fill="#0080ff"/><rect x="644.0" y="416.0" width="1" height="2" fill="#ff50ff"/><rect x="645.0" y="416.0" width="1" height="2" fill="#ff50ff"/><rect x="646.0" y="416.0" width="1" height="2" fill="#008040"/><rect x="647.0" y="416.0" width="1" height="2" fill="#0080ff"/><rect x="648.0" y="416.0" width="1" height="2" fill="#ff50ff"/><rect x="651.0" y="416.0" width="1" height="2" fill="#ff50ff"/><rect x="652.0" y="416.0" width="1" height="2" fill="#0000ff"/><rect x="639.0" y="418.0" width="1" height="2" fill="#ff50ff"/><rect x="640.0" y="418.0" width="1" height="2" fill="#ff50ff"/><rect x="641.0" y="418.0" width="1" height="2" fill="#0000ff"/><rect x="642.0" y="418.0" width="1" height="2" fill="#ff50ff"/><rect x="645.0" y="418.0" width="1" height="2" fill="#ff50ff"/><rect x="647.0" y="418.0" width="1" height="2" fill="#ff50ff"/><rect x="648.0" y="418.0" width="1" height="2" fill="#0000ff"/><rect x="649.0" y="418.0" width="1" height="2" fill="#408080"/><rect x="650.0" y="418.0" width="1" height="2" fill="#ff50ff"/><rect x="651.0" y="418.0" width="1" height="2" fill="#ff50ff"/><rect x="652.0" y="418.0" width="1" height="2" fill="#0000ff"/><rect x="643.0" y="420.0" width="1" height="2" fill="#ff50ff"/><rect x="644.0" y="420.0" width="1" height="2" fill="#ff50ff"/><rect x="645.0" y="420.0" width="1" height="2" fill="#ff50ff"/><rect x="648.0" y="420.0" width="1" height="2" fill="#ff50ff"/><rect x="649.0" y="420.0" width="1" height="2" fill="#ff50ff"/><rect x="650.0" y="420.0" width="1" height="2" fill="#00ffff"/><rect x="647.0" y="422.0" width="1" height="2" fill="#ff50ff"/><rect x="649.0" y="422.0" width="1" height="2" fill="#ff50ff"/><rect x="652.0" y="422.0" width="1" height="2" fill="#ff50ff"/><rect x="652.0" y="424.0" width="1" height="2" fill="#ff50ff"/><rect x="645.0" y="426.0" width="1" height="2" fill="#ff50ff"/><rect x="645.0" y="465.0" width="1" height="2" fill="#ff50ff"/><rect x="647.0" y="465.0" width="1" height="2" fill="#ff50ff"/><rect x="658.0" y="465.0" width="1" height="2" fill="#ff50ff"/><rect x="619.0" y="467.0" width="1" height="2" fill="#ff50ff"/><rect x="624.0" y="467.0" width="1" height="2" fill="#ff50ff"/><rect x="628.0" y="467.0" width="1" height="2" fill="#ff50ff"/><rect x="630.0" y="467.0" width="1" height="2" fill="#ff50ff"/><rect x="632.0" y="467.0" width="1" height="2" fill="#0000ff"/><rect x="633.0" y="467.0" width="1" height="2" fill="#ff50ff"/><rect x="634.0" y="467.0" width="1" height="2" fill="#ff50ff"/><rect x="637.0" y="467.0" width="1" height="2" fill="#0080ff"/><rect x="638.0" y="467.0" width="1" height="2" fill="#0080ff"/><rect x="643.0" y="467.0" width="1" height="2" fill="#ff50ff"/><rect x="646.0" y="467.0" width="1" height="2" fill="#0000ff"/><rect x="647.0" y="467.0" width="1" height="2" fill="#0000ff"/><rect x="648.0" y="467.0" width="1" height="2" fill="#0000ff"/><rect x="649.0" y="467.0" width="1" height="2" fill="#0080ff"/><rect x="650.0" y="467.0" width="1" height="2" fill="#0000ff"/><rect x="652.0" y="467.0" width="1" height="2" fill="#0000ff"/><rect x="654.0" y="467.0" width="1" height="2" fill="#0000ff"/><rect x="655.0" y="467.0" width="1" height="2" fill="#ff50ff"/><rect x="657.0" y="467.0" width="1" height="2" fill="#0000ff"/><rect x="664.0" y="467.0" width="1" height="2" fill="#ff50ff"/><rect x="666.0" y="467.0" width="1" height="2" fill="#ff50ff"/><rect x="669.0" y="467.0" width="1" height="2" fill="#ff50ff"/><rect x="671.0" y="467.0" width="1" height="2" fill="#0000ff"/><rect x="630.0" y="469.0" width="1" height="2" fill="#ff50ff"/><rect x="634.0" y="469.0" width="1" height="2" fill="#0080ff"/><rect x="636.0" y="469.0" width="1" height="2" fill="#ff50ff"/><rect x="637.0" y="469.0" width="1" height="2" fill="#0080ff"/><rect x="639.0" y="469.0" width="1" height="2" fill="#0000ff"/><rect x="640.0" y="469.0" width="1" height="2" fill="#ff50ff"/><rect x="641.0" y="469.0" width="1" height="2" fill="#0000ff"/><rect x="642.0" y="469.0" width="1" height="2" fill="#0000ff"/><rect x="643.0" y="469.0" width="1" height="2" fill="#0000ff"/><rect x="644.0" y="469.0" width="1" height="2" fill="#408080"/><rect x="645.0" y="469.0" width="1" height="2" fill="#ff50ff"/><rect x="646.0" y="469.0" width="1" height="2" fill="#408080"/><rect x="647.0" y="469.0" width="1" height="2" fill="#00ff00"/><rect x="648.0" y="469.0" width="1" height="2" fill="#00ff00"/><rect x="649.0" y="469.0" width="1" height="2" fill="#00ff00"/><rect x="650.0" y="469.0" width="1" height="2" fill="#ff50ff"/><rect x="651.0" y="469.0" width="1" height="2" fill="#ff50ff"/><rect x="652.0" y="469.0" width="1" height="2" fill="#0080ff"/><rect x="653.0" y="469.0" width="1" height="2" fill="#0080ff"/><rect x="654.0" y="469.0" width="1" height="2" fill="#0000ff"/><rect x="655.0" y="469.0" width="1" height="2" fill="#00ff00"/><rect x="656.0" y="469.0" width="1" height="2" fill="#ff50ff"/><rect x="657.0" y="469.0" width="1" height="2" fill="#0000ff"/><rect x="658.0" y="469.0" width="1" height="2" fill="#0000ff"/><rect x="659.0" y="469.0" width="1" height="2" fill="#00ff00"/><rect x="660.0" y="469.0" width="1" height="2" fill="#ff50ff"/><rect x="661.0" y="469.0" width="1" height="2" fill="#0080ff"/><rect x="662.0" y="469.0" width="1" height="2" fill="#0000ff"/><rect x="664.0" y="469.0" width="1" height="2" fill="#0080ff"/><rect x="665.0" y="469.0" width="1" height="2" fill="#ff50ff"/><rect x="667.0" y="469.0" width="1" height="2" fill="#0000ff"/><rect x="668.0" y="469.0" width="1" height="2" fill="#0000ff"/><rect x="674.0" y="469.0" width="1" height="2" fill="#0000ff"/><rect x="675.0" y="469.0" width="1" height="2" fill="#ff50ff"/><rect x="631.0" y="471.0" width="1" height="2" fill="#ff50ff"/><rect x="634.0" y="471.0" width="1" height="2" fill="#ff50ff"/><rect x="637.0" y="471.0" width="1" height="2" fill="#00ffff"/><rect x="638.0" y="471.0" width="1" height="2" fill="#0000ff"/><rect x="639.0" y="471.0" width="1" height="2" fill="#00ffff"/><rect x="641.0" y="471.0" width="1" height="2" fill="#ff50ff"/><rect x="642.0" y="471.0" width="1" height="2" fill="#00ffff"/><rect x="643.0" y="471.0" width="1" height="2" fill="#ff50ff"/><rect x="644.0" y="471.0" width="1" height="2" fill="#00ffff"/><rect x="645.0" y="471.0" width="1" height="2" fill="#0000ff"/><rect x="646.0" y="471.0" width="1" height="2" fill="#0080ff"/><rect x="647.0" y="471.0" width="1" height="2" fill="#0080ff"/><rect x="648.0" y="471.0" width="1" height="2" fill="#00ff00"/><rect x="649.0" y="471.0" width="1" height="2" fill="#0000ff"/><rect x="650.0" y="471.0" width="1" height="2" fill="#ff50ff"/><rect x="651.0" y="471.0" width="1" height="2" fill="#ff50ff"/><rect x="652.0" y="471.0" width="1" height="2" fill="#00ffff"/><rect x="653.0" y="471.0" width="1" height="2" fill="#ff50ff"/><rect x="654.0" y="471.0" width="1" height="2" fill="#ff50ff"/><rect x="657.0" y="471.0" width="1" height="2" fill="#0000ff"/><rect x="660.0" y="471.0" width="1" height="2" fill="#0080ff"/><rect x="662.0" y="471.0" width="1" height="2" fill="#ff50ff"/><rect x="664.0" y="471.0" width="1" height="2" fill="#00ffff"/><rect x="665.0" y="471.0" width="1" height="2" fill="#00ffff"/><rect x="666.0" y="471.0" width="1" height="2" fill="#0000ff"/><rect x="667.0" y="471.0" width="1" height="2" fill="#ff50ff"/><rect x="671.0" y="471.0" width="1" height="2" fill="#ff50ff"/><rect x="673.0" y="471.0" width="1" height="2" fill="#ff50ff"/><rect x="678.0" y="471.0" width="1" height="2" fill="#ff50ff"/><rect x="629.0" y="473.0" width="1" height="2" fill="#ff50ff"/><rect x="632.0" y="473.0" width="1" height="2" fill="#ff50ff"/><rect x="635.0" y="473.0" width="1" height="2" fill="#ff50ff"/><rect x="636.0" y="473.0" width="1" height="2" fill="#ff50ff"/><rect x="637.0" y="473.0" width="1" height="2" fill="#ff50ff"/><rect x="638.0" y="473.0" width="1" height="2" fill="#0000ff"/><rect x="639.0" y="473.0" width="1" height="2" fill="#ff50ff"/><rect x="641.0" y="473.0" width="1" height="2" fill="#ff50ff"/><rect x="642.0" y="473.0" width="1" height="2" fill="#ff50ff"/><rect x="645.0" y="473.0" width="1" height="2" fill="#ff50ff"/><rect x="649.0" y="473.0" width="1" height="2" fill="#0000ff"/><rect x="650.0" y="473.0" width="1" height="2" fill="#ff50ff"/><rect x="651.0" y="473.0" width="1" height="2" fill="#0000ff"/><rect x="652.0" y="473.0" width="1" height="2" fill="#ff50ff"/><rect x="654.0" y="473.0" width="1" height="2" fill="#ff50ff"/><rect x="657.0" y="473.0" width="1" height="2" fill="#ff50ff"/><rect x="661.0" y="473.0" width="1" height="2" fill="#ff50ff"/><rect x="662.0" y="473.0" width="1" height="2" fill="#0000ff"/><rect x="666.0" y="473.0" width="1" height="2" fill="#ff50ff"/><rect x="630.0" y="475.0" width="1" height="2" fill="#ff50ff"/><rect x="631.0" y="475.0" width="1" height="2" fill="#ff50ff"/><rect x="637.0" y="475.0" width="1" height="2" fill="#ff50ff"/><rect x="639.0" y="475.0" width="1" height="2" fill="#ff50ff"/><rect x="641.0" y="475.0" width="1" height="2" fill="#ff50ff"/><rect x="643.0" y="475.0" width="1" height="2" fill="#0000ff"/><rect x="644.0" y="475.0" width="1" height="2" fill="#0000ff"/><rect x="648.0" y="475.0" width="1" height="2" fill="#ff50ff"/><rect x="649.0" y="475.0" width="1" height="2" fill="#0000ff"/><rect x="650.0" y="475.0" width="1" height="2" fill="#ff50ff"/><rect x="651.0" y="475.0" width="1" height="2" fill="#0000ff"/><rect x="652.0" y="475.0" width="1" height="2" fill="#0000ff"/><rect x="653.0" y="475.0" width="1" height="2" fill="#ff50ff"/><rect x="654.0" y="475.0" width="1" height="2" fill="#ff50ff"/><rect x="656.0" y="475.0" width="1" height="2" fill="#0000ff"/><rect x="630.0" y="477.0" width="1" height="2" fill="#ff50ff"/><rect x="635.0" y="477.0" width="1" height="2" fill="#ff50ff"/><rect x="636.0" y="477.0" width="1" height="2" fill="#ff50ff"/><rect x="638.0" y="477.0" width="1" height="2" fill="#ff50ff"/><rect x="642.0" y="477.0" width="1" height="2" fill="#ff50ff"/><rect x="644.0" y="477.0" width="1" height="2" fill="#ff50ff"/><rect x="646.0" y="477.0" width="1" height="2" fill="#ff50ff"/><rect x="647.0" y="477.0" width="1" height="2" fill="#0000ff"/><rect x="649.0" y="477.0" width="1" height="2" fill="#ff50ff"/><rect x="654.0" y="477.0" width="1" height="2" fill="#ff50ff"/><rect x="663.0" y="477.0" width="1" height="2" fill="#ff50ff"/><rect x="624.0" y="479.0" width="1" height="2" fill="#ff50ff"/><rect x="631.0" y="479.0" width="1" height="2" fill="#ff50ff"/><rect x="635.0" y="479.0" width="1" height="2" fill="#ff50ff"/><rect x="636.0" y="479.0" width="1" height="2" fill="#ff50ff"/><rect x="637.0" y="479.0" width="1" height="2" fill="#ff50ff"/><rect x="639.0" y="479.0" width="1" height="2" fill="#ff50ff"/><rect x="644.0" y="479.0" width="1" height="2" fill="#0000ff"/><rect x="645.0" y="479.0" width="1" height="2" fill="#0000ff"/><rect x="647.0" y="479.0" width="1" height="2" fill="#0000ff"/><rect x="648.0" y="479.0" width="1" height="2" fill="#ff50ff"/><rect x="649.0" y="479.0" width="1" height="2" fill="#ff50ff"/><rect x="650.0" y="479.0" width="1" height="2" fill="#ff50ff"/><rect x="652.0" y="479.0" width="1" height="2" fill="#0000ff"/><rect x="655.0" y="479.0" width="1" height="2" fill="#ff50ff"/><rect x="636.0" y="481.0" width="1" height="2" fill="#ff50ff"/><rect x="639.0" y="481.0" width="1" height="2" fill="#ff50ff"/><rect x="640.0" y="481.0" width="1" height="2" fill="#ff50ff"/><rect x="643.0" y="481.0" width="1" height="2" fill="#ff50ff"/><rect x="647.0" y="481.0" width="1" height="2" fill="#ff50ff"/><rect x="651.0" y="481.0" width="1" height="2" fill="#0000ff"/><rect x="653.0" y="481.0" width="1" height="2" fill="#ff50ff"/><rect x="631.0" y="483.0" width="1" height="2" fill="#ff50ff"/><rect x="637.0" y="483.0" width="1" height="2" fill="#ff50ff"/><rect x="639.0" y="483.0" width="1" height="2" fill="#ff50ff"/><rect x="646.0" y="483.0" width="1" height="2" fill="#ff50ff"/><rect x="641.0" y="485.0" width="1" height="2" fill="#ff50ff"/><rect x="646.0" y="489.0" width="1" height="2" fill="#ff50ff"/><rect x="643.0" y="491.0" width="1" height="2" fill="#ff50ff"/><rect x="636.0" y="493.0" width="1" height="2" fill="#ff50ff"/><rect x="639.0" y="493.0" width="1" height="2" fill="#ff50ff"/><rect x="647.0" y="493.0" width="1" height="2" fill="#ff50ff"/><rect x="608.0" y="471.0" width="1" height="2" fill="#ff50ff"/><rect x="607.0" y="484.0" width="1" height="2" fill="#0000ff"/><rect x="623.0" y="477.0" width="1" height="2" fill="#ff50ff"/><rect x="666.5" y="425.0" width="1" height="2" fill="#ff50ff"/>
<line x1="595.5" y1="273.5" x2="600.5" y2="273.5" stroke="#000" stroke-width="1"/>
<line x1="595.5" y1="327.5" x2="600.5" y2="327.5" stroke="#000" stroke-width="1"/>
<line x1="595.5" y1="382.5" x2="600.5" y2="382.5" stroke="#000" stroke-width="1"/>
<line x1="595.5" y1="436.5" x2="600.5" y2="436.5" stroke="#000" stroke-width="1"/>
<line x1="595.5" y1="491.5" x2="600.5" y2="491.5" stroke="#000" stroke-width="1"/>
<line x1="595.5" y1="545.5" x2="600.5" y2="545.5" stroke="#000" stroke-width="1"/>
<line x1="595.5" y1="600.5" x2="600.5" y2="600.5" stroke="#000" stroke-width="1"/>
<line x1="595.5" y1="654.5" x2="600.5" y2="654.5" stroke="#000" stroke-width="1"/>
<line x1="595.5" y1="709.5" x2="600.5" y2="709.5" stroke="#000" stroke-width="1"/>
<line x1="641.5" y1="704.5" x2="641.5" y2="709.5" stroke="#000" stroke-width="1"/>
<rect x="595.5" y="273.5" width="93.0" height="436.0" fill="none" stroke="#000" stroke-width="1"/>
<text x="569.12" y="277.30" font-size="11.0" textLength="20.45" lengthAdjust="spacingAndGlyphs" fill="#000" >400</text>
<text x="568.94" y="331.80" font-size="11.0" textLength="20.64" lengthAdjust="spacingAndGlyphs" fill="#000" >300</text>
<text x="568.78" y="386.30" font-size="11.0" textLength="20.80" lengthAdjust="spacingAndGlyphs" fill="#000" >200</text>
<text x="568.45" y="440.80" font-size="11.0" textLength="21.14" lengthAdjust="spacingAndGlyphs" fill="#000" >100</text>
<text x="582.90" y="495.30" font-size="11.0" textLength="6.99" lengthAdjust="spacingAndGlyphs" fill="#000" >0</text>
<text x="559.75" y="549.80" font-size="11.0" textLength="29.34" lengthAdjust="spacingAndGlyphs" fill="#000" >−100</text>
<text x="559.75" y="604.30" font-size="11.0" textLength="29.34" lengthAdjust="spacingAndGlyphs" fill="#000" >−200</text>
<text x="559.75" y="658.80" font-size="11.0" textLength="29.34" lengthAdjust="spacingAndGlyphs" fill="#000" >−300</text>
<text x="559.75" y="713.30" font-size="11.0" textLength="29.34" lengthAdjust="spacingAndGlyphs" fill="#000" >−400</text>
<text x="592.22" y="722.00" font-size="11.0" textLength="6.64" lengthAdjust="spacingAndGlyphs" fill="#000" >0</text>
<text x="633.58" y="722.00" font-size="11.0" textLength="13.60" lengthAdjust="spacingAndGlyphs" fill="#000" >10</text>
<text x="681.03" y="722.00" font-size="11.0" textLength="12.73" lengthAdjust="spacingAndGlyphs" fill="#000" >20</text>
<text x="607.27" y="741.00" font-size="11.0" textLength="67.87" lengthAdjust="spacingAndGlyphs" fill="#000" >Altitude, km</text>
<text transform="translate(700.10,536.90) rotate(-90)" x="-1.04" y="0" font-size="11.0" textLength="91.87" lengthAdjust="spacingAndGlyphs">North-South, km</text>
<rect x="68.50" y="763.5" width="22.40" height="25.0" fill="#ff50ff"/>
<rect x="90.90" y="763.5" width="47.10" height="25.0" fill="#8000ff"/>
<rect x="138.00" y="763.5" width="47.00" height="25.0" fill="#0000ff"/>
<rect x="185.00" y="763.5" width="23.70" height="25.0" fill="#0080ff"/>
<rect x="208.70" y="763.5" width="23.30" height="25.0" fill="#00ffff"/>
<rect x="232.00" y="763.5" width="24.20" height="25.0" fill="#00ff00"/>
<rect x="256.20" y="763.5" width="23.80" height="25.0" fill="#008040"/>
<rect x="280.00" y="763.5" width="23.30" height="25.0" fill="#408080"/>
<rect x="303.30" y="763.5" width="23.90" height="25.0" fill="#ffff00"/>
<rect x="327.20" y="763.5" width="23.00" height="25.0" fill="#ffc080"/>
<rect x="350.20" y="763.5" width="23.80" height="25.0" fill="#ff8000"/>
<rect x="374.00" y="763.5" width="23.90" height="25.0" fill="#ff0080"/>
<rect x="397.90" y="763.5" width="23.10" height="25.0" fill="#ff0000"/>
<rect x="421.00" y="763.5" width="24.10" height="25.0" fill="#c00000"/>
<rect x="445.10" y="763.5" width="24.10" height="25.0" fill="#800000"/>
<rect x="469.20" y="763.5" width="22.80" height="25.0" fill="#000000"/>
<rect x="492.00" y="763.5" width="23.80" height="25.0" fill="#808080"/>
<rect x="515.80" y="763.5" width="23.00" height="25.0" fill="#c0c0c0"/>
<rect x="538.80" y="763.5" width="25.70" height="25.0" fill="#ffffff"/>
<line x1="143.50" y1="785.5" x2="143.50" y2="788.5" stroke="#000" stroke-width="1"/>
<line x1="186.50" y1="785.5" x2="186.50" y2="788.5" stroke="#000" stroke-width="1"/>
<line x1="217.50" y1="785.5" x2="217.50" y2="788.5" stroke="#000" stroke-width="1"/>
<line x1="241.50" y1="785.5" x2="241.50" y2="788.5" stroke="#000" stroke-width="1"/>
<line x1="261.50" y1="785.5" x2="261.50" y2="788.5" stroke="#000" stroke-width="1"/>
<line x1="278.50" y1="785.5" x2="278.50" y2="788.5" stroke="#000" stroke-width="1"/>
<line x1="292.50" y1="785.5" x2="292.50" y2="788.5" stroke="#000" stroke-width="1"/>
<line x1="305.50" y1="785.5" x2="305.50" y2="788.5" stroke="#000" stroke-width="1"/>
<line x1="316.50" y1="783.5" x2="316.50" y2="788.5" stroke="#000" stroke-width="1"/>
<line x1="391.50" y1="785.5" x2="391.50" y2="788.5" stroke="#000" stroke-width="1"/>
<line x1="434.50" y1="785.5" x2="434.50" y2="788.5" stroke="#000" stroke-width="1"/>
<line x1="465.50" y1="785.5" x2="465.50" y2="788.5" stroke="#000" stroke-width="1"/>
<line x1="489.50" y1="785.5" x2="489.50" y2="788.5" stroke="#000" stroke-width="1"/>
<line x1="509.50" y1="785.5" x2="509.50" y2="788.5" stroke="#000" stroke-width="1"/>
<line x1="526.50" y1="785.5" x2="526.50" y2="788.5" stroke="#000" stroke-width="1"/>
<line x1="540.50" y1="785.5" x2="540.50" y2="788.5" stroke="#000" stroke-width="1"/>
<line x1="553.50" y1="785.5" x2="553.50" y2="788.5" stroke="#000" stroke-width="1"/>
<rect x="68.5" y="763.5" width="496.0" height="25.0" fill="none" stroke="#000" stroke-width="1"/>
<text x="63.88" y="801.90" font-size="11.0" textLength="6.82" lengthAdjust="spacingAndGlyphs" fill="#000" >1</text>
<text x="308.81" y="801.90" font-size="11.0" textLength="13.27" lengthAdjust="spacingAndGlyphs" fill="#000" >10</text>
<text x="552.88" y="801.90" font-size="11.0" textLength="20.39" lengthAdjust="spacingAndGlyphs" fill="#000" >100</text>
<text x="583.40" y="784.00" font-size="17.2" textLength="115.24" lengthAdjust="spacingAndGlyphs" fill="#000" >Sources/7 km²</text>
</svg></body></html>
